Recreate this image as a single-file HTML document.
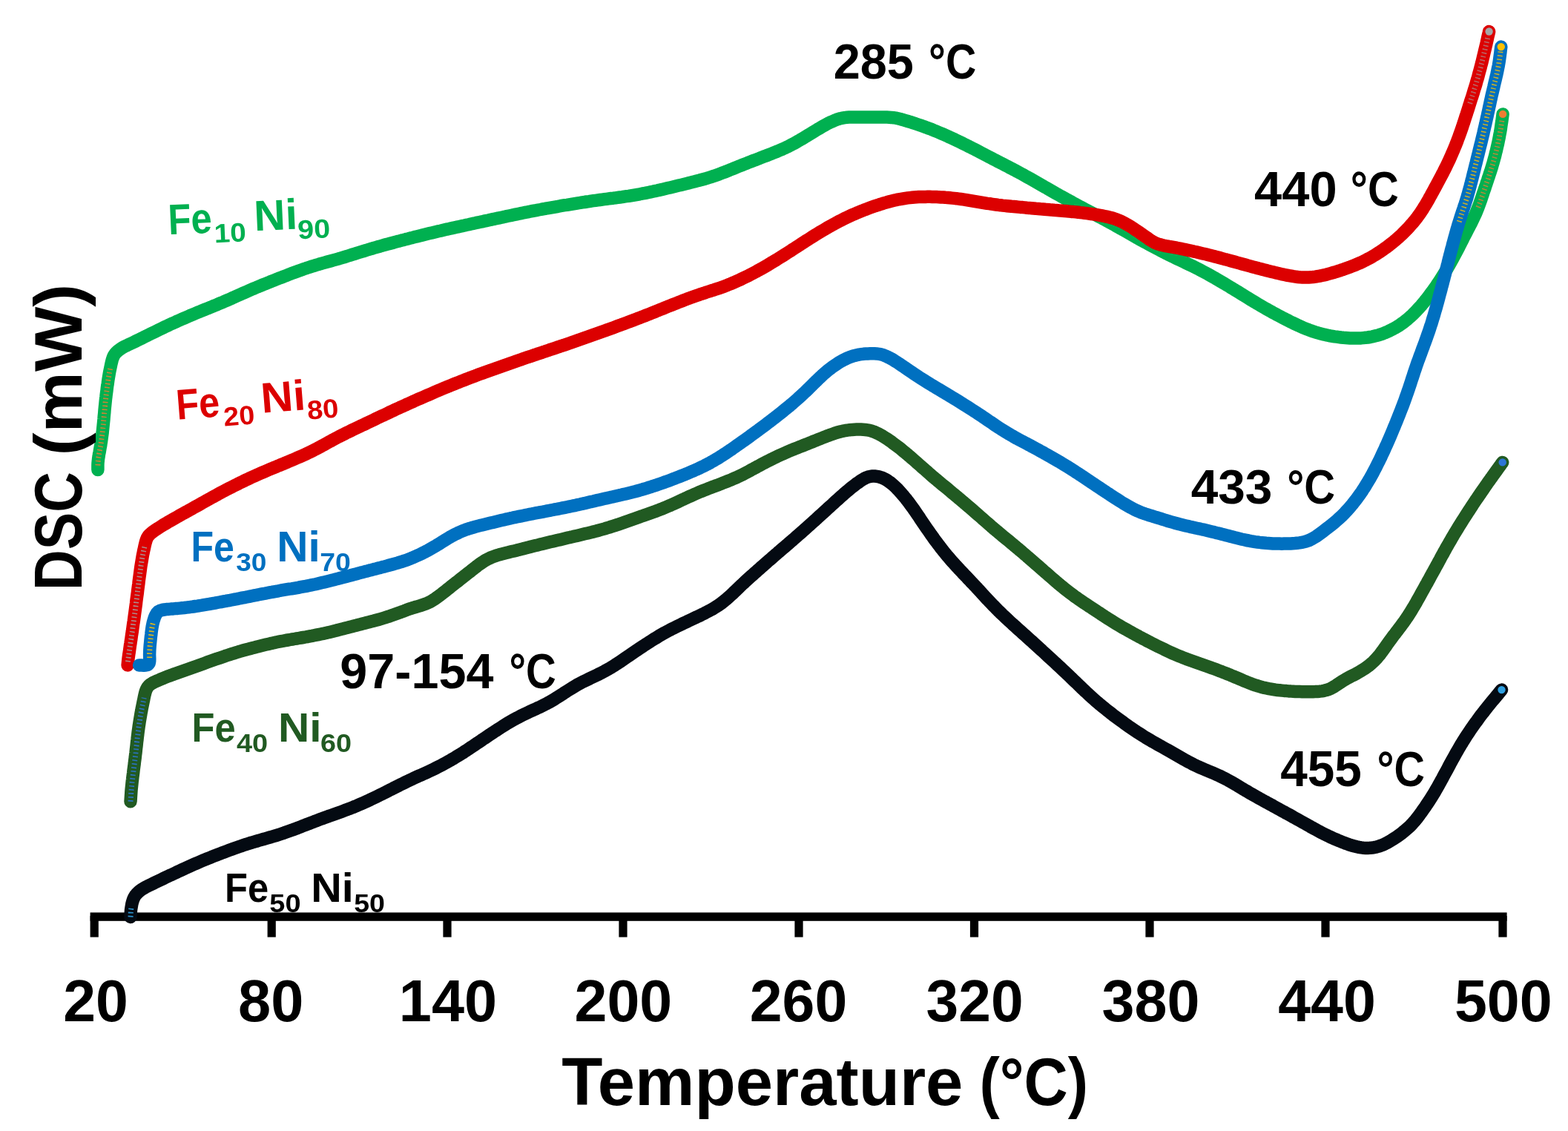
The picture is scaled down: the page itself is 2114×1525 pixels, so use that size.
<!DOCTYPE html><html><head><meta charset="utf-8"><style>html,body{margin:0;padding:0;background:#fff;width:2114px;height:1525px;overflow:hidden}svg{display:block}text{font-family:"Liberation Sans",Arial,sans-serif;font-weight:bold;white-space:pre}</style></head><body>
<svg xmlns="http://www.w3.org/2000/svg" width="2114" height="1525" viewBox="0 0 2114 1525">
<rect width="2114" height="1525" fill="#fff"/>
<rect x="121.6" y="1230.4" width="1910.0" height="11.4" fill="#000"/><rect x="121.6" y="1235" width="11.2" height="28.6" fill="#000"/><rect x="360.6" y="1235" width="11.2" height="28.6" fill="#000"/><rect x="597.4" y="1235" width="11.2" height="28.6" fill="#000"/><rect x="834.4" y="1235" width="11.2" height="28.6" fill="#000"/><rect x="1071.4" y="1235" width="11.2" height="28.6" fill="#000"/><rect x="1307.9" y="1235" width="11.2" height="28.6" fill="#000"/><rect x="1544.4" y="1235" width="11.2" height="28.6" fill="#000"/><rect x="1781.4" y="1235" width="11.2" height="28.6" fill="#000"/><rect x="2020.4" y="1235" width="11.2" height="28.6" fill="#000"/>
<path d="M131.9,633.5 L131.9,630.5 L131.9,627.5 L132.0,624.5 L132.3,621.5 L132.6,618.5 L133.1,615.6 L133.5,612.6 L134.1,609.7 L134.6,606.7 L135.1,603.8 L135.7,600.8 L136.1,597.8 L136.6,594.9 L137.0,591.9 L137.4,588.9 L137.8,586.0 L138.2,583.0 L138.5,580.0 L138.8,577.0 L139.1,574.0 L139.4,571.1 L139.7,568.1 L140.0,565.1 L140.2,562.1 L140.5,559.1 L140.8,556.1 L141.0,553.1 L141.3,550.1 L141.6,547.1 L141.9,544.2 L142.2,541.2 L142.5,538.2 L142.9,535.2 L143.2,532.2 L143.6,529.3 L144.0,526.3 L144.3,523.3 L144.7,520.3 L145.2,517.4 L145.6,514.4 L146.0,511.4 L146.5,508.5 L147.0,505.5 L147.5,502.5 L148.1,499.6 L148.7,496.6 L149.3,493.7 L149.9,490.8 L150.6,487.9 L151.3,485.0 L152.3,482.1 L153.5,479.4 L155.2,476.9 L157.2,474.7 L159.4,472.7 L161.8,470.9 L164.3,469.2 L166.9,467.8 L169.5,466.4 L172.2,465.2 L174.9,463.9 L177.7,462.6 L180.4,461.3 L183.1,460.0 L185.8,458.7 L188.5,457.4 L191.1,456.1 L193.8,454.7 L196.5,453.4 L199.2,452.1 L201.9,450.7 L204.6,449.4 L207.3,448.1 L210.0,446.8 L212.7,445.4 L215.4,444.1 L218.1,442.8 L220.8,441.5 L223.5,440.2 L226.2,439.0 L228.9,437.7 L231.6,436.4 L234.4,435.2 L237.1,434.0 L239.8,432.7 L242.6,431.5 L245.3,430.3 L248.1,429.1 L250.8,427.9 L253.6,426.7 L256.3,425.5 L259.1,424.4 L261.9,423.2 L264.7,422.0 L267.4,420.9 L270.2,419.8 L273.0,418.6 L275.8,417.5 L278.6,416.4 L281.3,415.3 L284.1,414.2 L286.9,413.0 L289.7,411.9 L292.5,410.8 L295.2,409.6 L298.0,408.4 L300.8,407.3 L303.5,406.1 L306.3,404.9 L309.0,403.7 L311.8,402.5 L314.5,401.2 L317.2,400.0 L320.0,398.8 L322.7,397.6 L325.4,396.3 L328.2,395.1 L330.9,393.9 L333.7,392.7 L336.4,391.5 L339.2,390.3 L342.0,389.1 L344.7,388.0 L347.5,386.8 L350.3,385.7 L353.0,384.5 L355.8,383.4 L358.6,382.3 L361.4,381.2 L364.2,380.0 L367.0,378.9 L369.8,377.8 L372.6,376.7 L375.3,375.6 L378.1,374.6 L380.9,373.5 L383.7,372.4 L386.5,371.3 L389.3,370.2 L392.1,369.1 L394.9,368.1 L397.8,367.0 L400.6,366.0 L403.4,364.9 L406.2,363.9 L409.0,362.9 L411.9,362.0 L414.7,361.0 L417.6,360.1 L420.4,359.2 L423.3,358.3 L426.2,357.4 L429.0,356.6 L431.9,355.7 L434.8,354.9 L437.7,354.1 L440.6,353.3 L443.5,352.5 L446.4,351.7 L449.3,350.9 L452.2,350.1 L455.0,349.3 L457.9,348.5 L460.8,347.6 L463.7,346.8 L466.5,345.9 L469.4,345.0 L472.3,344.1 L475.1,343.2 L478.0,342.3 L480.9,341.4 L483.7,340.5 L486.6,339.6 L489.5,338.8 L492.3,337.9 L495.2,337.0 L498.1,336.1 L501.0,335.3 L503.8,334.4 L506.7,333.6 L509.6,332.8 L512.5,332.0 L515.4,331.1 L518.3,330.3 L521.2,329.5 L524.1,328.8 L527.0,328.0 L529.9,327.2 L532.8,326.4 L535.7,325.6 L538.6,324.9 L541.5,324.1 L544.4,323.4 L547.3,322.6 L550.2,321.9 L553.1,321.1 L556.0,320.4 L558.9,319.6 L561.8,318.9 L564.7,318.2 L567.6,317.5 L570.6,316.7 L573.5,316.0 L576.4,315.3 L579.3,314.6 L582.2,313.9 L585.1,313.2 L588.1,312.5 L591.0,311.8 L593.9,311.2 L596.8,310.5 L599.8,309.8 L602.7,309.1 L605.6,308.5 L608.5,307.8 L611.5,307.2 L614.4,306.5 L617.3,305.9 L620.3,305.2 L623.2,304.6 L626.1,304.0 L629.1,303.3 L632.0,302.7 L634.9,302.0 L637.9,301.4 L640.8,300.8 L643.7,300.1 L646.7,299.5 L649.6,298.9 L652.5,298.2 L655.5,297.6 L658.4,297.0 L661.3,296.3 L664.3,295.7 L667.2,295.1 L670.1,294.4 L673.1,293.8 L676.0,293.2 L678.9,292.6 L681.9,291.9 L684.8,291.3 L687.7,290.7 L690.7,290.1 L693.6,289.4 L696.6,288.8 L699.5,288.2 L702.4,287.6 L705.4,287.0 L708.3,286.4 L711.3,285.9 L714.2,285.3 L717.2,284.7 L720.1,284.1 L723.0,283.6 L726.0,283.0 L728.9,282.5 L731.9,281.9 L734.9,281.4 L737.8,280.8 L740.8,280.3 L743.7,279.8 L746.7,279.3 L749.6,278.8 L752.6,278.3 L755.5,277.7 L758.5,277.2 L761.5,276.7 L764.4,276.3 L767.4,275.8 L770.3,275.3 L773.3,274.8 L776.3,274.3 L779.2,273.8 L782.2,273.4 L785.2,272.9 L788.1,272.5 L791.1,272.0 L794.1,271.6 L797.0,271.1 L800.0,270.7 L803.0,270.3 L806.0,269.9 L808.9,269.5 L811.9,269.1 L814.9,268.7 L817.9,268.3 L820.8,267.9 L823.8,267.5 L826.8,267.2 L829.8,266.8 L832.7,266.4 L835.7,266.0 L838.7,265.6 L841.6,265.1 L844.6,264.7 L847.6,264.3 L850.5,263.8 L853.5,263.3 L856.5,262.8 L859.4,262.3 L862.4,261.8 L865.3,261.2 L868.3,260.7 L871.2,260.1 L874.2,259.5 L877.1,258.9 L880.0,258.3 L883.0,257.6 L885.9,257.0 L888.8,256.3 L891.8,255.7 L894.7,255.0 L897.6,254.3 L900.5,253.6 L903.4,252.9 L906.4,252.2 L909.3,251.5 L912.2,250.8 L915.1,250.1 L918.0,249.4 L920.9,248.7 L923.9,248.0 L926.8,247.3 L929.7,246.5 L932.6,245.8 L935.5,245.1 L938.4,244.3 L941.3,243.6 L944.2,242.8 L947.1,242.0 L950.0,241.2 L952.9,240.4 L955.7,239.5 L958.6,238.6 L961.4,237.7 L964.3,236.7 L967.1,235.7 L969.9,234.7 L972.7,233.6 L975.5,232.6 L978.3,231.5 L981.1,230.4 L983.9,229.2 L986.7,228.1 L989.5,227.0 L992.2,225.9 L995.0,224.7 L997.8,223.6 L1000.6,222.5 L1003.4,221.4 L1006.2,220.3 L1009.0,219.2 L1011.8,218.1 L1014.6,217.0 L1017.4,215.9 L1020.2,214.9 L1023.0,213.8 L1025.8,212.7 L1028.6,211.6 L1031.4,210.6 L1034.2,209.5 L1037.0,208.4 L1039.8,207.3 L1042.6,206.2 L1045.3,205.1 L1048.1,204.0 L1050.9,202.8 L1053.6,201.7 L1056.4,200.4 L1059.1,199.2 L1061.8,197.9 L1064.5,196.5 L1067.1,195.2 L1069.8,193.8 L1072.4,192.3 L1075.0,190.8 L1077.6,189.4 L1080.2,187.8 L1082.8,186.3 L1085.3,184.8 L1087.9,183.2 L1090.5,181.7 L1093.0,180.1 L1095.6,178.5 L1098.1,177.0 L1100.7,175.4 L1103.3,173.8 L1105.9,172.3 L1108.4,170.8 L1111.0,169.3 L1113.7,167.8 L1116.3,166.4 L1119.0,165.1 L1121.7,163.9 L1124.5,162.7 L1127.3,161.6 L1130.1,160.6 L1133.0,159.7 L1135.9,159.1 L1138.8,158.6 L1141.8,158.3 L1144.8,158.1 L1147.8,157.9 L1150.8,157.9 L1153.8,157.9 L1156.8,157.9 L1159.7,157.9 L1162.7,158.0 L1165.7,158.0 L1168.7,158.0 L1171.7,158.0 L1174.7,158.0 L1177.7,158.1 L1180.7,158.1 L1183.7,158.1 L1186.7,158.1 L1189.7,158.1 L1192.7,158.1 L1195.7,158.1 L1198.7,158.2 L1201.7,158.4 L1204.7,158.7 L1207.7,159.1 L1210.6,159.7 L1213.5,160.4 L1216.4,161.3 L1219.3,162.1 L1222.1,163.0 L1225.0,163.8 L1227.9,164.7 L1230.7,165.6 L1233.6,166.6 L1236.4,167.5 L1239.3,168.5 L1242.1,169.4 L1245.0,170.4 L1247.8,171.5 L1250.6,172.5 L1253.4,173.6 L1256.2,174.6 L1259.0,175.8 L1261.8,176.9 L1264.5,178.0 L1267.3,179.2 L1270.1,180.4 L1272.8,181.6 L1275.6,182.8 L1278.3,184.0 L1281.0,185.3 L1283.7,186.5 L1286.5,187.8 L1289.2,189.1 L1291.9,190.4 L1294.6,191.7 L1297.3,193.0 L1300.0,194.3 L1302.7,195.6 L1305.3,197.0 L1308.0,198.3 L1310.7,199.7 L1313.4,201.1 L1316.0,202.4 L1318.7,203.8 L1321.4,205.2 L1324.0,206.6 L1326.7,208.0 L1329.3,209.4 L1332.0,210.8 L1334.7,212.1 L1337.3,213.5 L1340.0,214.9 L1342.7,216.3 L1345.3,217.7 L1348.0,219.1 L1350.7,220.4 L1353.3,221.8 L1356.0,223.2 L1358.7,224.6 L1361.3,226.0 L1364.0,227.3 L1366.6,228.7 L1369.3,230.1 L1371.9,231.6 L1374.6,233.0 L1377.2,234.4 L1379.8,235.8 L1382.5,237.3 L1385.1,238.8 L1387.7,240.2 L1390.3,241.7 L1392.9,243.2 L1395.5,244.7 L1398.1,246.2 L1400.7,247.7 L1403.3,249.2 L1405.9,250.7 L1408.5,252.2 L1411.2,253.6 L1413.8,255.1 L1416.4,256.6 L1419.0,258.1 L1421.6,259.6 L1424.2,261.1 L1426.8,262.5 L1429.4,264.0 L1432.1,265.5 L1434.7,266.9 L1437.3,268.4 L1439.9,269.8 L1442.6,271.2 L1445.2,272.7 L1447.8,274.1 L1450.5,275.5 L1453.1,277.0 L1455.8,278.4 L1458.4,279.8 L1461.1,281.2 L1463.7,282.6 L1466.4,284.0 L1469.0,285.4 L1471.7,286.8 L1474.3,288.2 L1477.0,289.6 L1479.6,291.0 L1482.3,292.4 L1485.0,293.8 L1487.6,295.2 L1490.3,296.6 L1492.9,298.1 L1495.5,299.5 L1498.2,300.9 L1500.8,302.4 L1503.4,303.8 L1506.0,305.3 L1508.7,306.8 L1511.3,308.3 L1513.9,309.7 L1516.5,311.2 L1519.1,312.7 L1521.7,314.2 L1524.3,315.7 L1526.9,317.2 L1529.5,318.7 L1532.1,320.2 L1534.7,321.6 L1537.3,323.1 L1540.0,324.6 L1542.6,326.0 L1545.2,327.4 L1547.9,328.9 L1550.5,330.3 L1553.2,331.7 L1555.8,333.1 L1558.5,334.5 L1561.1,335.9 L1563.8,337.3 L1566.4,338.7 L1569.1,340.0 L1571.8,341.4 L1574.5,342.8 L1577.2,344.1 L1579.8,345.4 L1582.5,346.7 L1585.2,348.0 L1587.9,349.3 L1590.7,350.6 L1593.4,351.9 L1596.1,353.2 L1598.8,354.5 L1601.5,355.8 L1604.2,357.1 L1606.9,358.4 L1609.6,359.7 L1612.3,361.1 L1615.0,362.4 L1617.6,363.8 L1620.3,365.2 L1622.9,366.6 L1625.6,368.0 L1628.2,369.4 L1630.8,370.9 L1633.4,372.4 L1636.1,373.9 L1638.7,375.3 L1641.3,376.8 L1643.8,378.4 L1646.4,379.9 L1649.0,381.4 L1651.6,382.9 L1654.2,384.5 L1656.8,386.0 L1659.3,387.6 L1661.9,389.1 L1664.5,390.7 L1667.0,392.2 L1669.6,393.8 L1672.1,395.4 L1674.7,397.0 L1677.2,398.5 L1679.8,400.1 L1682.3,401.7 L1684.9,403.3 L1687.5,404.8 L1690.0,406.4 L1692.6,407.9 L1695.2,409.5 L1697.8,411.0 L1700.3,412.5 L1702.9,414.0 L1705.5,415.5 L1708.2,417.0 L1710.8,418.5 L1713.4,419.9 L1716.0,421.4 L1718.7,422.8 L1721.3,424.2 L1723.9,425.6 L1726.6,427.0 L1729.3,428.4 L1731.9,429.8 L1734.6,431.2 L1737.3,432.5 L1740.0,433.9 L1742.6,435.2 L1745.3,436.5 L1748.1,437.8 L1750.8,439.1 L1753.5,440.3 L1756.2,441.5 L1759.0,442.7 L1761.8,443.8 L1764.6,444.8 L1767.4,445.9 L1770.2,446.8 L1773.1,447.8 L1775.9,448.6 L1778.8,449.5 L1781.7,450.2 L1784.6,450.9 L1787.5,451.6 L1790.4,452.2 L1793.4,452.8 L1796.3,453.3 L1799.3,453.8 L1802.2,454.2 L1805.2,454.6 L1808.2,455.0 L1811.2,455.3 L1814.1,455.5 L1817.1,455.7 L1820.1,455.9 L1823.1,456.0 L1826.1,456.1 L1829.1,456.1 L1832.1,456.0 L1835.0,455.9 L1838.0,455.6 L1841.0,455.3 L1843.9,455.0 L1846.9,454.5 L1849.8,454.0 L1852.7,453.3 L1855.6,452.6 L1858.4,451.8 L1861.3,450.9 L1864.1,449.9 L1866.8,448.9 L1869.6,447.7 L1872.3,446.5 L1875.0,445.2 L1877.6,443.9 L1880.3,442.4 L1882.8,440.9 L1885.4,439.4 L1887.9,437.7 L1890.3,436.0 L1892.7,434.3 L1895.1,432.4 L1897.4,430.6 L1899.6,428.6 L1901.9,426.6 L1904.1,424.6 L1906.2,422.5 L1908.3,420.4 L1910.4,418.2 L1912.4,416.0 L1914.4,413.8 L1916.4,411.6 L1918.3,409.3 L1920.3,407.0 L1922.1,404.6 L1924.0,402.3 L1925.8,399.9 L1927.6,397.5 L1929.4,395.1 L1931.2,392.7 L1932.9,390.3 L1934.7,387.8 L1936.4,385.3 L1938.0,382.9 L1939.7,380.4 L1941.4,377.9 L1943.0,375.3 L1944.6,372.8 L1946.2,370.3 L1947.8,367.7 L1949.3,365.1 L1950.9,362.6 L1952.4,360.0 L1953.9,357.4 L1955.3,354.8 L1956.8,352.2 L1958.3,349.5 L1959.7,346.9 L1961.1,344.2 L1962.5,341.6 L1963.9,338.9 L1965.3,336.3 L1966.7,333.6 L1968.0,330.9 L1969.4,328.3 L1970.7,325.6 L1972.1,322.9 L1973.4,320.2 L1974.8,317.6 L1976.2,314.9 L1977.6,312.2 L1978.9,309.6 L1980.3,306.9 L1981.7,304.2 L1983.1,301.6 L1984.4,298.9 L1985.7,296.2 L1987.0,293.5 L1988.3,290.8 L1989.5,288.1 L1990.7,285.3 L1991.8,282.5 L1992.9,279.7 L1994.0,276.9 L1995.0,274.1 L1996.0,271.3 L1997.0,268.5 L1997.9,265.6 L1998.9,262.8 L1999.8,259.9 L2000.8,257.1 L2001.8,254.3 L2002.7,251.4 L2003.7,248.6 L2004.6,245.7 L2005.6,242.9 L2006.5,240.0 L2007.5,237.2 L2008.4,234.3 L2009.4,231.5 L2010.3,228.6 L2011.2,225.8 L2012.0,222.9 L2012.9,220.0 L2013.7,217.1 L2014.5,214.2 L2015.3,211.4 L2016.0,208.4 L2016.7,205.5 L2017.5,202.6 L2018.1,199.7 L2018.8,196.8 L2019.5,193.9 L2020.1,190.9 L2020.7,188.0 L2021.3,185.0 L2021.8,182.1 L2022.4,179.1 L2022.9,176.2 L2023.4,173.2 L2023.8,170.2 L2024.2,167.3 L2024.7,164.3 L2025.1,161.3 L2025.5,158.4 L2025.9,155.4 L2026.1,153.9" fill="none" stroke="#00B050" stroke-width="17.5" stroke-linecap="round" stroke-linejoin="round"/>
<path d="M172.1,896.9 L172.4,893.9 L172.7,890.9 L173.0,887.9 L173.4,885.0 L173.8,882.0 L174.3,879.0 L174.7,876.1 L175.1,873.1 L175.5,870.1 L176.0,867.2 L176.4,864.2 L176.9,861.2 L177.3,858.2 L177.7,855.3 L178.2,852.3 L178.6,849.3 L179.0,846.4 L179.4,843.4 L179.8,840.4 L180.3,837.5 L180.7,834.5 L181.1,831.5 L181.5,828.5 L181.9,825.6 L182.3,822.6 L182.7,819.6 L183.1,816.6 L183.5,813.7 L183.8,810.7 L184.2,807.7 L184.6,804.7 L185.0,801.8 L185.4,798.8 L185.7,795.8 L186.1,792.8 L186.5,789.8 L186.9,786.9 L187.2,783.9 L187.6,780.9 L188.0,777.9 L188.4,775.0 L188.8,772.0 L189.2,769.0 L189.6,766.0 L190.0,763.1 L190.5,760.1 L191.0,757.2 L191.5,754.2 L192.0,751.2 L192.5,748.3 L193.1,745.4 L193.7,742.4 L194.4,739.5 L195.0,736.6 L195.7,733.6 L196.4,730.7 L197.3,727.9 L198.4,725.1 L200.0,722.6 L202.1,720.4 L204.3,718.4 L206.7,716.6 L209.1,714.9 L211.6,713.2 L214.2,711.6 L216.7,710.0 L219.2,708.4 L221.8,706.8 L224.4,705.3 L226.9,703.8 L229.5,702.3 L232.1,700.8 L234.7,699.3 L237.4,697.8 L240.0,696.4 L242.6,694.9 L245.2,693.4 L247.8,692.0 L250.5,690.5 L253.1,689.1 L255.7,687.6 L258.3,686.2 L261.0,684.7 L263.6,683.2 L266.2,681.8 L268.8,680.3 L271.4,678.8 L274.0,677.4 L276.7,675.9 L279.3,674.4 L281.9,673.0 L284.5,671.5 L287.2,670.1 L289.8,668.6 L292.4,667.2 L295.1,665.7 L297.7,664.3 L300.3,662.9 L303.0,661.5 L305.7,660.1 L308.3,658.7 L311.0,657.4 L313.7,656.0 L316.3,654.6 L319.0,653.3 L321.7,652.0 L324.4,650.6 L327.1,649.3 L329.8,648.0 L332.5,646.7 L335.2,645.5 L337.9,644.2 L340.7,642.9 L343.4,641.7 L346.1,640.5 L348.9,639.3 L351.6,638.1 L354.4,636.9 L357.1,635.7 L359.9,634.5 L362.7,633.3 L365.4,632.2 L368.2,631.0 L371.0,629.9 L373.7,628.7 L376.5,627.6 L379.3,626.4 L382.0,625.3 L384.8,624.1 L387.6,623.0 L390.4,621.8 L393.1,620.7 L395.9,619.5 L398.7,618.3 L401.4,617.1 L404.2,615.9 L406.9,614.7 L409.6,613.5 L412.4,612.2 L415.1,610.9 L417.8,609.6 L420.4,608.3 L423.1,606.9 L425.8,605.6 L428.4,604.2 L431.1,602.8 L433.7,601.3 L436.4,599.9 L439.0,598.5 L441.6,597.0 L444.3,595.6 L446.9,594.2 L449.5,592.7 L452.2,591.3 L454.8,589.9 L457.5,588.5 L460.2,587.2 L462.8,585.8 L465.5,584.5 L468.2,583.1 L470.9,581.8 L473.6,580.5 L476.3,579.2 L479.0,577.9 L481.7,576.6 L484.4,575.3 L487.1,574.0 L489.9,572.8 L492.6,571.5 L495.3,570.2 L498.0,568.9 L500.7,567.6 L503.4,566.3 L506.1,565.0 L508.8,563.7 L511.5,562.4 L514.2,561.1 L516.9,559.9 L519.7,558.6 L522.4,557.3 L525.1,556.0 L527.8,554.7 L530.5,553.5 L533.2,552.2 L536.0,550.9 L538.7,549.7 L541.4,548.4 L544.1,547.2 L546.9,546.0 L549.6,544.7 L552.4,543.5 L555.1,542.3 L557.8,541.0 L560.6,539.8 L563.3,538.6 L566.1,537.4 L568.8,536.2 L571.6,535.0 L574.3,533.8 L577.1,532.6 L579.8,531.4 L582.6,530.2 L585.3,529.0 L588.1,527.8 L590.8,526.7 L593.6,525.5 L596.4,524.3 L599.1,523.2 L601.9,522.0 L604.7,520.9 L607.5,519.7 L610.2,518.6 L613.0,517.5 L615.8,516.4 L618.6,515.3 L621.4,514.2 L624.2,513.1 L627.0,512.0 L629.8,510.9 L632.6,509.8 L635.4,508.8 L638.2,507.7 L641.0,506.7 L643.8,505.6 L646.6,504.6 L649.5,503.6 L652.3,502.5 L655.1,501.5 L657.9,500.5 L660.7,499.5 L663.6,498.5 L666.4,497.5 L669.2,496.5 L672.1,495.5 L674.9,494.5 L677.7,493.5 L680.5,492.5 L683.4,491.5 L686.2,490.5 L689.0,489.5 L691.9,488.5 L694.7,487.5 L697.5,486.5 L700.4,485.5 L703.2,484.6 L706.0,483.6 L708.9,482.6 L711.7,481.6 L714.6,480.7 L717.4,479.7 L720.2,478.7 L723.1,477.8 L725.9,476.8 L728.8,475.9 L731.6,474.9 L734.5,474.0 L737.3,473.0 L740.2,472.1 L743.0,471.1 L745.9,470.2 L748.7,469.2 L751.5,468.2 L754.4,467.3 L757.2,466.3 L760.1,465.4 L762.9,464.4 L765.8,463.4 L768.6,462.5 L771.4,461.5 L774.3,460.5 L777.1,459.5 L779.9,458.5 L782.8,457.5 L785.6,456.5 L788.4,455.5 L791.3,454.5 L794.1,453.5 L796.9,452.5 L799.7,451.5 L802.6,450.5 L805.4,449.5 L808.2,448.5 L811.0,447.5 L813.9,446.5 L816.7,445.5 L819.5,444.4 L822.3,443.4 L825.1,442.4 L828.0,441.4 L830.8,440.3 L833.6,439.3 L836.4,438.3 L839.2,437.2 L842.0,436.2 L844.9,435.1 L847.7,434.1 L850.5,433.0 L853.3,432.0 L856.1,430.9 L858.9,429.8 L861.7,428.8 L864.5,427.7 L867.3,426.6 L870.1,425.5 L872.9,424.4 L875.7,423.3 L878.5,422.2 L881.2,421.1 L884.0,420.0 L886.8,418.8 L889.6,417.7 L892.4,416.6 L895.2,415.5 L897.9,414.3 L900.7,413.2 L903.5,412.1 L906.3,411.0 L909.1,409.9 L911.9,408.8 L914.7,407.7 L917.5,406.6 L920.3,405.5 L923.1,404.4 L925.9,403.3 L928.7,402.3 L931.5,401.2 L934.3,400.2 L937.1,399.2 L940.0,398.2 L942.8,397.3 L945.6,396.3 L948.5,395.4 L951.3,394.4 L954.2,393.5 L957.1,392.6 L959.9,391.7 L962.8,390.8 L965.6,389.8 L968.5,388.9 L971.3,387.9 L974.1,386.9 L976.9,385.9 L979.7,384.8 L982.5,383.7 L985.3,382.6 L988.1,381.4 L990.8,380.2 L993.5,379.0 L996.3,377.8 L999.0,376.5 L1001.7,375.2 L1004.4,373.9 L1007.1,372.6 L1009.8,371.3 L1012.4,369.9 L1015.1,368.5 L1017.7,367.1 L1020.4,365.7 L1023.0,364.2 L1025.6,362.8 L1028.2,361.3 L1030.8,359.8 L1033.4,358.3 L1036.0,356.8 L1038.6,355.2 L1041.2,353.7 L1043.7,352.1 L1046.3,350.6 L1048.8,349.0 L1051.4,347.4 L1053.9,345.8 L1056.5,344.2 L1059.0,342.6 L1061.5,341.0 L1064.1,339.4 L1066.6,337.8 L1069.1,336.1 L1071.6,334.5 L1074.1,332.9 L1076.7,331.2 L1079.2,329.6 L1081.7,327.9 L1084.2,326.3 L1086.7,324.7 L1089.3,323.1 L1091.8,321.5 L1094.3,319.9 L1096.9,318.3 L1099.4,316.7 L1102.0,315.1 L1104.5,313.6 L1107.1,312.0 L1109.7,310.5 L1112.3,309.0 L1114.9,307.4 L1117.5,305.9 L1120.1,304.5 L1122.7,303.0 L1125.3,301.6 L1128.0,300.1 L1130.6,298.7 L1133.3,297.4 L1136.0,296.0 L1138.6,294.7 L1141.3,293.4 L1144.0,292.1 L1146.8,290.8 L1149.5,289.6 L1152.2,288.4 L1155.0,287.2 L1157.8,286.1 L1160.5,284.9 L1163.3,283.8 L1166.1,282.7 L1168.9,281.7 L1171.7,280.6 L1174.6,279.6 L1177.4,278.6 L1180.2,277.6 L1183.1,276.7 L1185.9,275.7 L1188.8,274.8 L1191.6,273.9 L1194.5,273.1 L1197.4,272.3 L1200.3,271.5 L1203.2,270.8 L1206.1,270.1 L1209.0,269.4 L1211.9,268.8 L1214.9,268.3 L1217.8,267.8 L1220.8,267.3 L1223.8,266.9 L1226.7,266.6 L1229.7,266.3 L1232.7,266.0 L1235.7,265.8 L1238.7,265.6 L1241.7,265.5 L1244.6,265.4 L1247.6,265.4 L1250.6,265.3 L1253.6,265.3 L1256.6,265.4 L1259.6,265.5 L1262.6,265.6 L1265.6,265.7 L1268.6,265.9 L1271.6,266.0 L1274.6,266.3 L1277.6,266.5 L1280.6,266.8 L1283.6,267.1 L1286.5,267.4 L1289.5,267.7 L1292.5,268.1 L1295.5,268.5 L1298.4,268.9 L1301.4,269.3 L1304.4,269.8 L1307.3,270.3 L1310.3,270.8 L1313.2,271.3 L1316.2,271.8 L1319.2,272.3 L1322.1,272.8 L1325.1,273.3 L1328.0,273.8 L1331.0,274.3 L1334.0,274.7 L1336.9,275.2 L1339.9,275.6 L1342.9,276.0 L1345.8,276.4 L1348.8,276.7 L1351.8,277.1 L1354.8,277.4 L1357.8,277.7 L1360.7,278.0 L1363.7,278.3 L1366.7,278.5 L1369.7,278.8 L1372.7,279.1 L1375.7,279.4 L1378.7,279.6 L1381.7,279.9 L1384.6,280.2 L1387.6,280.4 L1390.6,280.7 L1393.6,281.0 L1396.6,281.3 L1399.6,281.5 L1402.6,281.8 L1405.6,282.0 L1408.6,282.3 L1411.5,282.6 L1414.5,282.8 L1417.5,283.1 L1420.5,283.3 L1423.5,283.6 L1426.5,283.8 L1429.5,284.1 L1432.5,284.3 L1435.5,284.6 L1438.5,284.8 L1441.4,285.1 L1444.4,285.4 L1447.4,285.6 L1450.4,285.9 L1453.4,286.2 L1456.4,286.6 L1459.4,286.9 L1462.3,287.3 L1465.3,287.7 L1468.3,288.1 L1471.2,288.5 L1474.2,288.9 L1477.2,289.4 L1480.1,289.9 L1483.1,290.4 L1486.0,290.9 L1489.0,291.5 L1491.9,292.1 L1494.8,292.8 L1497.7,293.5 L1500.6,294.3 L1503.5,295.3 L1506.3,296.3 L1509.0,297.4 L1511.8,298.6 L1514.5,300.0 L1517.1,301.3 L1519.8,302.8 L1522.4,304.3 L1524.9,305.9 L1527.4,307.5 L1529.9,309.2 L1532.4,310.9 L1534.9,312.5 L1537.4,314.2 L1539.8,316.0 L1542.3,317.7 L1544.7,319.4 L1547.2,321.1 L1549.6,322.9 L1552.1,324.5 L1554.7,326.0 L1557.4,327.4 L1560.1,328.6 L1563.0,329.5 L1565.9,330.3 L1568.8,331.0 L1571.7,331.6 L1574.7,332.1 L1577.6,332.7 L1580.6,333.2 L1583.5,333.7 L1586.5,334.2 L1589.4,334.8 L1592.4,335.4 L1595.3,336.0 L1598.3,336.6 L1601.2,337.2 L1604.1,337.9 L1607.1,338.5 L1610.0,339.2 L1612.9,339.8 L1615.8,340.5 L1618.7,341.2 L1621.7,341.9 L1624.6,342.6 L1627.5,343.3 L1630.4,344.1 L1633.3,344.8 L1636.2,345.5 L1639.1,346.3 L1642.0,347.0 L1644.9,347.8 L1647.8,348.6 L1650.7,349.4 L1653.6,350.1 L1656.5,350.9 L1659.4,351.7 L1662.3,352.5 L1665.2,353.3 L1668.1,354.1 L1671.0,354.9 L1673.9,355.7 L1676.8,356.5 L1679.7,357.3 L1682.6,358.1 L1685.5,358.9 L1688.4,359.7 L1691.3,360.4 L1694.2,361.2 L1697.1,362.0 L1700.0,362.7 L1702.9,363.5 L1705.8,364.2 L1708.7,365.0 L1711.6,365.7 L1714.5,366.4 L1717.4,367.1 L1720.3,367.9 L1723.2,368.5 L1726.2,369.2 L1729.1,369.9 L1732.0,370.5 L1734.9,371.1 L1737.9,371.7 L1740.8,372.2 L1743.8,372.7 L1746.7,373.1 L1749.7,373.5 L1752.6,373.8 L1755.6,373.9 L1758.6,374.0 L1761.5,374.0 L1764.5,373.9 L1767.5,373.7 L1770.4,373.5 L1773.4,373.1 L1776.3,372.6 L1779.3,372.1 L1782.2,371.5 L1785.1,370.9 L1788.0,370.2 L1790.9,369.4 L1793.8,368.6 L1796.7,367.8 L1799.5,367.0 L1802.4,366.1 L1805.3,365.2 L1808.1,364.2 L1811.0,363.3 L1813.8,362.3 L1816.6,361.3 L1819.4,360.3 L1822.2,359.2 L1825.0,358.1 L1827.8,357.0 L1830.5,355.8 L1833.3,354.6 L1836.0,353.4 L1838.7,352.1 L1841.4,350.7 L1844.0,349.3 L1846.7,347.9 L1849.3,346.5 L1851.9,344.9 L1854.4,343.4 L1857.0,341.8 L1859.5,340.2 L1862.0,338.5 L1864.4,336.8 L1866.9,335.1 L1869.3,333.4 L1871.7,331.6 L1874.1,329.7 L1876.4,327.9 L1878.8,326.0 L1881.1,324.1 L1883.3,322.1 L1885.6,320.1 L1887.8,318.1 L1890.0,316.1 L1892.1,314.0 L1894.2,311.9 L1896.3,309.7 L1898.4,307.6 L1900.4,305.4 L1902.4,303.1 L1904.4,300.9 L1906.3,298.6 L1908.2,296.3 L1910.0,293.9 L1911.8,291.5 L1913.6,289.1 L1915.3,286.6 L1916.9,284.2 L1918.6,281.6 L1920.1,279.1 L1921.7,276.5 L1923.2,274.0 L1924.7,271.4 L1926.2,268.8 L1927.6,266.1 L1929.1,263.5 L1930.5,260.9 L1932.0,258.2 L1933.4,255.6 L1934.8,253.0 L1936.3,250.3 L1937.7,247.7 L1939.1,245.0 L1940.5,242.4 L1941.9,239.7 L1943.3,237.1 L1944.7,234.4 L1946.1,231.8 L1947.4,229.1 L1948.8,226.4 L1950.1,223.7 L1951.4,221.0 L1952.7,218.3 L1954.0,215.6 L1955.2,212.9 L1956.4,210.1 L1957.6,207.4 L1958.8,204.6 L1960.0,201.9 L1961.1,199.1 L1962.3,196.3 L1963.4,193.5 L1964.5,190.7 L1965.5,187.9 L1966.6,185.1 L1967.6,182.3 L1968.6,179.5 L1969.6,176.7 L1970.6,173.8 L1971.6,171.0 L1972.5,168.1 L1973.5,165.3 L1974.4,162.4 L1975.3,159.6 L1976.2,156.7 L1977.2,153.9 L1978.1,151.0 L1979.0,148.2 L1979.9,145.3 L1980.8,142.4 L1981.7,139.6 L1982.6,136.7 L1983.5,133.9 L1984.5,131.0 L1985.4,128.1 L1986.3,125.3 L1987.1,122.4 L1988.0,119.5 L1988.9,116.7 L1989.8,113.8 L1990.6,110.9 L1991.4,108.0 L1992.3,105.2 L1993.1,102.3 L1993.8,99.4 L1994.6,96.5 L1995.4,93.6 L1996.2,90.7 L1996.9,87.8 L1997.7,84.9 L1998.4,81.9 L1999.1,79.0 L1999.8,76.1 L2000.5,73.2 L2001.2,70.3 L2001.9,67.4 L2002.6,64.4 L2003.3,61.5 L2004.0,58.6 L2004.6,55.7 L2005.3,52.7 L2005.9,49.8 L2006.6,46.9 L2007.3,44.0 L2007.6,42.5" fill="none" stroke="#DC0000" stroke-width="17.5" stroke-linecap="round" stroke-linejoin="round"/>
<path d="M187.6,897.0 L190.6,897.1 L193.6,897.2 L196.5,897.0 L199.3,896.4 L201.1,894.4 L201.7,891.5 L201.8,888.5 L201.7,885.5 L201.6,882.6 L201.7,879.6 L201.8,876.6 L202.0,873.6 L202.2,870.6 L202.5,867.6 L202.8,864.6 L203.1,861.6 L203.4,858.7 L203.8,855.7 L204.1,852.7 L204.5,849.7 L204.9,846.8 L205.4,843.8 L206.0,840.9 L206.7,838.0 L207.6,835.1 L208.5,832.3 L209.7,829.6 L211.2,827.0 L213.2,824.8 L215.8,823.4 L218.6,822.5 L221.6,822.0 L224.5,821.6 L227.5,821.4 L230.5,821.1 L233.5,820.9 L236.5,820.6 L239.5,820.4 L242.5,820.1 L245.4,819.8 L248.4,819.5 L251.4,819.1 L254.4,818.8 L257.4,818.4 L260.3,818.0 L263.3,817.5 L266.3,817.1 L269.2,816.6 L272.2,816.2 L275.1,815.7 L278.1,815.2 L281.1,814.7 L284.0,814.1 L287.0,813.6 L289.9,813.1 L292.9,812.5 L295.8,812.0 L298.8,811.5 L301.7,810.9 L304.7,810.4 L307.6,809.8 L310.6,809.3 L313.5,808.7 L316.5,808.1 L319.4,807.6 L322.4,807.0 L325.3,806.4 L328.2,805.8 L331.2,805.3 L334.1,804.7 L337.1,804.1 L340.0,803.5 L343.0,802.9 L345.9,802.4 L348.8,801.8 L351.8,801.2 L354.7,800.6 L357.7,800.1 L360.6,799.5 L363.6,798.9 L366.5,798.4 L369.5,797.8 L372.4,797.3 L375.4,796.8 L378.3,796.2 L381.3,795.7 L384.2,795.2 L387.2,794.7 L390.2,794.2 L393.1,793.8 L396.1,793.3 L399.0,792.8 L402.0,792.3 L405.0,791.7 L407.9,791.2 L410.9,790.7 L413.8,790.1 L416.7,789.5 L419.7,788.9 L422.6,788.3 L425.5,787.7 L428.5,787.0 L431.4,786.3 L434.3,785.6 L437.2,784.9 L440.1,784.2 L443.1,783.5 L446.0,782.8 L448.9,782.1 L451.8,781.3 L454.7,780.6 L457.6,779.8 L460.5,779.0 L463.4,778.3 L466.3,777.5 L469.2,776.7 L472.1,776.0 L475.0,775.2 L477.9,774.4 L480.8,773.7 L483.7,772.9 L486.6,772.1 L489.5,771.4 L492.4,770.6 L495.3,769.9 L498.2,769.1 L501.1,768.4 L504.0,767.6 L506.9,766.9 L509.8,766.1 L512.7,765.4 L515.6,764.6 L518.5,763.9 L521.4,763.1 L524.3,762.3 L527.2,761.5 L530.1,760.7 L533.0,759.9 L535.9,759.1 L538.8,758.2 L541.6,757.3 L544.4,756.4 L547.3,755.4 L550.1,754.4 L552.9,753.3 L555.7,752.2 L558.4,751.0 L561.2,749.8 L563.9,748.6 L566.6,747.3 L569.3,746.0 L572.0,744.7 L574.6,743.3 L577.3,741.9 L579.9,740.4 L582.5,738.9 L585.1,737.4 L587.6,735.9 L590.2,734.3 L592.8,732.8 L595.3,731.2 L597.8,729.6 L600.4,728.0 L602.9,726.5 L605.5,724.9 L608.1,723.4 L610.7,722.0 L613.4,720.6 L616.0,719.3 L618.7,718.0 L621.5,716.8 L624.2,715.7 L627.0,714.6 L629.8,713.6 L632.6,712.7 L635.5,711.8 L638.4,711.0 L641.2,710.2 L644.1,709.4 L647.0,708.6 L649.9,707.9 L652.9,707.2 L655.8,706.5 L658.7,705.8 L661.6,705.1 L664.5,704.4 L667.4,703.7 L670.4,703.0 L673.3,702.3 L676.2,701.6 L679.1,700.9 L682.0,700.2 L685.0,699.6 L687.9,698.9 L690.8,698.3 L693.8,697.6 L696.7,697.0 L699.6,696.4 L702.6,695.8 L705.5,695.2 L708.4,694.6 L711.4,694.0 L714.3,693.4 L717.3,692.9 L720.2,692.3 L723.2,691.7 L726.1,691.2 L729.1,690.6 L732.0,690.1 L735.0,689.5 L737.9,688.9 L740.9,688.4 L743.8,687.8 L746.7,687.2 L749.7,686.7 L752.6,686.1 L755.6,685.5 L758.5,684.9 L761.5,684.3 L764.4,683.7 L767.3,683.1 L770.3,682.5 L773.2,681.9 L776.2,681.3 L779.1,680.6 L782.0,680.0 L784.9,679.3 L787.9,678.7 L790.8,678.0 L793.7,677.3 L796.6,676.6 L799.6,676.0 L802.5,675.3 L805.4,674.6 L808.3,673.9 L811.2,673.2 L814.2,672.5 L817.1,671.9 L820.0,671.2 L822.9,670.6 L825.9,669.9 L828.8,669.2 L831.7,668.6 L834.7,667.9 L837.6,667.3 L840.5,666.6 L843.4,665.9 L846.3,665.2 L849.3,664.5 L852.2,663.8 L855.1,663.1 L858.0,662.3 L860.9,661.5 L863.7,660.7 L866.6,659.8 L869.5,659.0 L872.4,658.1 L875.2,657.2 L878.1,656.3 L880.9,655.3 L883.8,654.4 L886.6,653.4 L889.4,652.5 L892.3,651.5 L895.1,650.5 L897.9,649.4 L900.8,648.4 L903.6,647.4 L906.4,646.3 L909.2,645.3 L912.0,644.2 L914.8,643.1 L917.6,642.0 L920.4,640.9 L923.1,639.8 L925.9,638.7 L928.7,637.5 L931.5,636.3 L934.2,635.2 L937.0,633.9 L939.7,632.7 L942.4,631.5 L945.1,630.2 L947.8,628.9 L950.5,627.5 L953.2,626.2 L955.8,624.8 L958.4,623.3 L961.0,621.9 L963.6,620.4 L966.2,618.8 L968.8,617.3 L971.3,615.7 L973.8,614.1 L976.4,612.4 L978.9,610.8 L981.3,609.1 L983.8,607.4 L986.3,605.8 L988.8,604.0 L991.2,602.3 L993.7,600.6 L996.1,598.9 L998.6,597.1 L1001.0,595.4 L1003.5,593.7 L1005.9,591.9 L1008.4,590.2 L1010.8,588.4 L1013.2,586.6 L1015.6,584.9 L1018.1,583.1 L1020.5,581.3 L1022.9,579.6 L1025.3,577.8 L1027.7,576.0 L1030.1,574.2 L1032.5,572.4 L1034.9,570.6 L1037.3,568.8 L1039.7,566.9 L1042.1,565.1 L1044.4,563.3 L1046.8,561.4 L1049.2,559.6 L1051.5,557.7 L1053.9,555.8 L1056.2,554.0 L1058.5,552.1 L1060.9,550.2 L1063.2,548.3 L1065.5,546.3 L1067.8,544.4 L1070.0,542.5 L1072.3,540.5 L1074.6,538.5 L1076.8,536.5 L1079.0,534.5 L1081.2,532.5 L1083.4,530.4 L1085.6,528.4 L1087.8,526.3 L1089.9,524.2 L1092.0,522.1 L1094.2,520.0 L1096.3,517.9 L1098.4,515.8 L1100.6,513.7 L1102.7,511.6 L1104.9,509.5 L1107.1,507.5 L1109.3,505.4 L1111.5,503.4 L1113.8,501.5 L1116.1,499.6 L1118.4,497.7 L1120.8,495.9 L1123.2,494.2 L1125.7,492.5 L1128.1,490.8 L1130.6,489.2 L1133.1,487.6 L1135.7,486.2 L1138.4,484.8 L1141.1,483.5 L1143.8,482.3 L1146.6,481.2 L1149.4,480.2 L1152.3,479.4 L1155.2,478.7 L1158.1,478.1 L1161.1,477.7 L1164.0,477.3 L1167.0,477.1 L1170.0,476.9 L1173.0,476.8 L1176.0,476.7 L1179.0,476.7 L1182.0,476.9 L1185.0,477.3 L1187.9,477.9 L1190.7,478.7 L1193.5,479.8 L1196.2,481.0 L1198.9,482.3 L1201.5,483.7 L1204.1,485.2 L1206.6,486.8 L1209.2,488.4 L1211.7,490.0 L1214.2,491.7 L1216.6,493.4 L1219.1,495.0 L1221.6,496.7 L1224.1,498.4 L1226.5,500.1 L1229.0,501.8 L1231.5,503.5 L1234.0,505.2 L1236.5,506.8 L1239.0,508.5 L1241.5,510.1 L1244.0,511.7 L1246.6,513.3 L1249.1,514.9 L1251.7,516.5 L1254.2,518.0 L1256.8,519.6 L1259.4,521.1 L1262.0,522.7 L1264.5,524.2 L1267.1,525.7 L1269.7,527.3 L1272.3,528.8 L1274.8,530.4 L1277.4,531.9 L1280.0,533.5 L1282.5,535.0 L1285.1,536.6 L1287.7,538.1 L1290.2,539.7 L1292.8,541.3 L1295.3,542.9 L1297.9,544.5 L1300.4,546.1 L1302.9,547.7 L1305.5,549.3 L1308.0,550.9 L1310.5,552.5 L1313.0,554.1 L1315.6,555.8 L1318.1,557.4 L1320.6,559.1 L1323.1,560.7 L1325.5,562.4 L1328.0,564.1 L1330.5,565.8 L1333.0,567.5 L1335.5,569.1 L1338.0,570.8 L1340.4,572.5 L1342.9,574.2 L1345.4,575.8 L1348.0,577.5 L1350.5,579.1 L1353.0,580.7 L1355.6,582.3 L1358.1,583.8 L1360.7,585.3 L1363.3,586.9 L1365.9,588.3 L1368.5,589.8 L1371.1,591.3 L1373.8,592.7 L1376.4,594.1 L1379.1,595.5 L1381.7,596.9 L1384.4,598.3 L1387.0,599.7 L1389.7,601.1 L1392.3,602.6 L1395.0,604.0 L1397.6,605.4 L1400.2,606.8 L1402.9,608.3 L1405.5,609.7 L1408.1,611.2 L1410.7,612.6 L1413.3,614.1 L1416.0,615.6 L1418.6,617.1 L1421.2,618.6 L1423.8,620.1 L1426.4,621.6 L1428.9,623.1 L1431.5,624.6 L1434.1,626.2 L1436.6,627.7 L1439.2,629.3 L1441.7,630.9 L1444.3,632.5 L1446.8,634.1 L1449.3,635.7 L1451.8,637.4 L1454.4,639.0 L1456.9,640.7 L1459.4,642.3 L1461.9,644.0 L1464.3,645.7 L1466.8,647.3 L1469.3,649.0 L1471.8,650.7 L1474.3,652.3 L1476.8,654.0 L1479.3,655.7 L1481.8,657.3 L1484.3,659.0 L1486.8,660.7 L1489.3,662.3 L1491.8,664.0 L1494.3,665.6 L1496.8,667.3 L1499.3,668.9 L1501.8,670.6 L1504.3,672.2 L1506.9,673.8 L1509.4,675.4 L1511.9,677.0 L1514.5,678.6 L1517.1,680.1 L1519.7,681.6 L1522.3,683.1 L1524.9,684.6 L1527.6,686.0 L1530.2,687.3 L1532.9,688.6 L1535.7,689.8 L1538.4,691.0 L1541.3,692.0 L1544.1,693.0 L1547.0,693.9 L1549.8,694.8 L1552.7,695.7 L1555.6,696.6 L1558.4,697.5 L1561.3,698.3 L1564.2,699.2 L1567.0,700.1 L1569.9,701.0 L1572.8,701.9 L1575.6,702.8 L1578.5,703.6 L1581.4,704.4 L1584.3,705.2 L1587.2,706.0 L1590.1,706.8 L1593.0,707.5 L1595.9,708.2 L1598.8,708.9 L1601.7,709.6 L1604.6,710.3 L1607.6,710.9 L1610.5,711.6 L1613.4,712.2 L1616.4,712.8 L1619.3,713.5 L1622.2,714.1 L1625.1,714.8 L1628.0,715.5 L1631.0,716.2 L1633.9,716.9 L1636.8,717.6 L1639.7,718.4 L1642.6,719.1 L1645.5,719.8 L1648.4,720.6 L1651.3,721.3 L1654.2,722.1 L1657.1,722.8 L1660.0,723.6 L1662.9,724.3 L1665.9,725.1 L1668.8,725.8 L1671.7,726.5 L1674.6,727.2 L1677.5,727.8 L1680.4,728.5 L1683.4,729.0 L1686.3,729.6 L1689.3,730.1 L1692.2,730.6 L1695.2,731.0 L1698.2,731.4 L1701.1,731.7 L1704.1,732.0 L1707.1,732.3 L1710.1,732.5 L1713.1,732.7 L1716.1,732.9 L1719.1,733.0 L1722.1,733.1 L1725.1,733.1 L1728.1,733.2 L1731.1,733.1 L1734.1,733.1 L1737.1,733.0 L1740.0,732.9 L1743.0,732.7 L1746.0,732.5 L1749.0,732.2 L1752.0,731.9 L1755.0,731.4 L1757.9,730.8 L1760.8,730.1 L1763.6,729.1 L1766.4,727.9 L1769.0,726.5 L1771.6,725.0 L1774.2,723.5 L1776.7,721.8 L1779.1,720.0 L1781.5,718.2 L1783.9,716.4 L1786.2,714.6 L1788.6,712.8 L1791.0,711.0 L1793.4,709.1 L1795.7,707.3 L1798.0,705.4 L1800.3,703.5 L1802.6,701.5 L1804.8,699.5 L1807.0,697.5 L1809.2,695.5 L1811.3,693.4 L1813.4,691.2 L1815.4,689.0 L1817.4,686.8 L1819.4,684.6 L1821.4,682.3 L1823.3,680.0 L1825.1,677.7 L1827.0,675.3 L1828.8,672.9 L1830.6,670.5 L1832.3,668.1 L1834.1,665.6 L1835.8,663.2 L1837.4,660.7 L1839.1,658.2 L1840.7,655.6 L1842.2,653.1 L1843.8,650.5 L1845.3,647.9 L1846.8,645.4 L1848.3,642.7 L1849.8,640.1 L1851.2,637.5 L1852.6,634.8 L1854.0,632.2 L1855.4,629.5 L1856.7,626.8 L1858.0,624.2 L1859.4,621.5 L1860.7,618.8 L1862.0,616.1 L1863.2,613.3 L1864.5,610.6 L1865.8,607.9 L1867.0,605.2 L1868.2,602.4 L1869.5,599.7 L1870.7,597.0 L1871.9,594.2 L1873.1,591.5 L1874.3,588.7 L1875.5,585.9 L1876.6,583.2 L1877.8,580.4 L1878.9,577.6 L1880.1,574.9 L1881.2,572.1 L1882.4,569.3 L1883.5,566.5 L1884.6,563.8 L1885.7,561.0 L1886.8,558.2 L1887.9,555.4 L1889.0,552.6 L1890.1,549.8 L1891.2,547.0 L1892.2,544.2 L1893.3,541.4 L1894.3,538.6 L1895.3,535.7 L1896.3,532.9 L1897.3,530.1 L1898.3,527.2 L1899.3,524.4 L1900.2,521.6 L1901.2,518.7 L1902.1,515.9 L1903.0,513.0 L1903.9,510.2 L1904.9,507.3 L1905.8,504.5 L1906.7,501.6 L1907.7,498.8 L1908.7,495.9 L1909.6,493.1 L1910.6,490.3 L1911.6,487.4 L1912.7,484.6 L1913.7,481.8 L1914.7,479.0 L1915.8,476.2 L1916.8,473.3 L1917.8,470.5 L1918.9,467.7 L1919.9,464.9 L1921.0,462.1 L1922.0,459.3 L1923.0,456.5 L1924.0,453.6 L1925.0,450.8 L1926.0,448.0 L1927.0,445.1 L1927.9,442.3 L1928.8,439.4 L1929.8,436.6 L1930.7,433.7 L1931.5,430.8 L1932.4,428.0 L1933.3,425.1 L1934.1,422.2 L1934.9,419.3 L1935.8,416.5 L1936.6,413.6 L1937.4,410.7 L1938.2,407.8 L1939.0,404.9 L1939.8,402.0 L1940.5,399.1 L1941.3,396.2 L1942.1,393.3 L1942.9,390.4 L1943.6,387.5 L1944.4,384.6 L1945.2,381.7 L1945.9,378.8 L1946.7,375.9 L1947.4,373.0 L1948.2,370.1 L1948.9,367.2 L1949.6,364.3 L1950.4,361.4 L1951.1,358.4 L1951.9,355.5 L1952.6,352.6 L1953.3,349.7 L1954.1,346.8 L1954.8,343.9 L1955.6,341.0 L1956.3,338.1 L1957.1,335.2 L1957.9,332.3 L1958.6,329.4 L1959.4,326.5 L1960.2,323.6 L1961.0,320.7 L1961.8,317.8 L1962.6,314.9 L1963.4,312.0 L1964.2,309.2 L1965.1,306.3 L1965.9,303.4 L1966.8,300.5 L1967.7,297.7 L1968.6,294.8 L1969.5,292.0 L1970.4,289.1 L1971.4,286.3 L1972.3,283.4 L1973.3,280.6 L1974.2,277.7 L1975.2,274.9 L1976.1,272.0 L1977.0,269.2 L1977.9,266.3 L1978.7,263.4 L1979.5,260.6 L1980.3,257.7 L1981.1,254.8 L1981.9,251.9 L1982.6,249.0 L1983.4,246.1 L1984.1,243.2 L1984.9,240.3 L1985.6,237.4 L1986.3,234.4 L1987.1,231.5 L1987.8,228.6 L1988.5,225.7 L1989.2,222.8 L1990.0,219.9 L1990.7,217.0 L1991.4,214.1 L1992.1,211.2 L1992.9,208.2 L1993.6,205.3 L1994.3,202.4 L1995.0,199.5 L1995.7,196.6 L1996.5,193.7 L1997.2,190.8 L1997.9,187.8 L1998.6,184.9 L1999.3,182.0 L2000.0,179.1 L2000.6,176.2 L2001.3,173.2 L2002.0,170.3 L2002.7,167.4 L2003.3,164.5 L2004.0,161.5 L2004.6,158.6 L2005.3,155.7 L2005.9,152.8 L2006.6,149.8 L2007.2,146.9 L2007.8,144.0 L2008.5,141.0 L2009.1,138.1 L2009.7,135.2 L2010.4,132.2 L2011.0,129.3 L2011.7,126.4 L2012.4,123.5 L2013.1,120.5 L2013.8,117.6 L2014.4,114.7 L2015.1,111.8 L2015.8,108.9 L2016.5,105.9 L2017.2,103.0 L2017.9,100.1 L2018.5,97.2 L2019.1,94.2 L2019.7,91.3 L2020.3,88.4 L2020.8,85.4 L2021.3,82.4 L2021.7,79.5 L2022.1,76.5 L2022.5,73.5 L2022.9,70.5 L2023.2,67.6 L2023.6,64.6 L2023.8,63.1" fill="none" stroke="#0070C0" stroke-width="17.5" stroke-linecap="round" stroke-linejoin="round"/>
<path d="M176.0,1080.7 L176.2,1077.7 L176.4,1074.7 L176.6,1071.7 L176.8,1068.7 L177.0,1065.7 L177.3,1062.7 L177.6,1059.8 L177.9,1056.8 L178.2,1053.8 L178.6,1050.8 L178.9,1047.8 L179.3,1044.8 L179.7,1041.9 L180.0,1038.9 L180.4,1035.9 L180.8,1032.9 L181.2,1030.0 L181.5,1027.0 L181.9,1024.0 L182.3,1021.0 L182.6,1018.0 L183.0,1015.1 L183.3,1012.1 L183.6,1009.1 L184.0,1006.1 L184.3,1003.1 L184.6,1000.1 L185.0,997.2 L185.3,994.2 L185.7,991.2 L186.0,988.2 L186.4,985.3 L186.8,982.3 L187.2,979.3 L187.7,976.3 L188.1,973.4 L188.6,970.4 L189.1,967.5 L189.6,964.5 L190.1,961.5 L190.7,958.6 L191.2,955.6 L191.8,952.7 L192.4,949.8 L193.0,946.8 L193.6,943.9 L194.2,940.9 L194.8,938.0 L195.5,935.1 L196.3,932.2 L197.4,929.4 L198.8,926.8 L200.7,924.5 L203.0,922.6 L205.5,921.0 L208.2,919.7 L210.9,918.4 L213.7,917.2 L216.4,916.0 L219.2,914.9 L222.0,913.7 L224.8,912.6 L227.6,911.6 L230.4,910.5 L233.2,909.5 L236.0,908.4 L238.8,907.4 L241.6,906.4 L244.5,905.4 L247.3,904.4 L250.1,903.4 L253.0,902.4 L255.8,901.4 L258.6,900.4 L261.4,899.4 L264.3,898.4 L267.1,897.4 L269.9,896.4 L272.7,895.4 L275.6,894.4 L278.4,893.3 L281.2,892.3 L284.1,891.3 L286.9,890.3 L289.7,889.3 L292.5,888.3 L295.4,887.4 L298.2,886.4 L301.1,885.4 L303.9,884.4 L306.8,883.5 L309.6,882.6 L312.5,881.7 L315.3,880.8 L318.2,879.9 L321.1,879.0 L323.9,878.2 L326.8,877.3 L329.7,876.5 L332.6,875.7 L335.5,875.0 L338.4,874.2 L341.3,873.4 L344.2,872.7 L347.1,871.9 L350.0,871.2 L352.9,870.5 L355.9,869.8 L358.8,869.1 L361.7,868.4 L364.6,867.7 L367.6,867.1 L370.5,866.4 L373.4,865.8 L376.4,865.2 L379.3,864.6 L382.2,864.1 L385.2,863.5 L388.2,863.0 L391.1,862.5 L394.1,862.0 L397.0,861.5 L400.0,861.0 L402.9,860.5 L405.9,860.0 L408.9,859.5 L411.8,859.0 L414.8,858.5 L417.7,857.9 L420.7,857.4 L423.6,856.8 L426.6,856.2 L429.5,855.6 L432.4,855.0 L435.4,854.4 L438.3,853.7 L441.2,853.1 L444.1,852.4 L447.1,851.7 L450.0,851.0 L452.9,850.3 L455.8,849.5 L458.7,848.8 L461.6,848.1 L464.5,847.3 L467.4,846.6 L470.4,845.8 L473.3,845.1 L476.2,844.3 L479.1,843.6 L482.0,842.8 L484.9,842.1 L487.8,841.3 L490.7,840.6 L493.6,839.8 L496.5,839.1 L499.4,838.3 L502.3,837.6 L505.2,836.8 L508.1,836.0 L511.0,835.2 L513.9,834.4 L516.7,833.5 L519.6,832.6 L522.5,831.7 L525.3,830.8 L528.1,829.8 L531.0,828.8 L533.8,827.8 L536.6,826.8 L539.4,825.8 L542.2,824.7 L545.1,823.7 L547.9,822.6 L550.7,821.6 L553.5,820.6 L556.4,819.7 L559.2,818.8 L562.1,818.0 L565.0,817.1 L567.9,816.3 L570.7,815.3 L573.5,814.3 L576.3,813.2 L579.0,811.9 L581.7,810.5 L584.2,808.9 L586.7,807.3 L589.2,805.6 L591.6,803.8 L594.0,802.0 L596.4,800.1 L598.8,798.3 L601.1,796.4 L603.4,794.5 L605.8,792.7 L608.1,790.8 L610.5,788.9 L612.8,787.1 L615.2,785.2 L617.6,783.4 L619.9,781.5 L622.3,779.6 L624.6,777.8 L627.0,775.9 L629.4,774.1 L631.7,772.2 L634.1,770.4 L636.4,768.5 L638.8,766.7 L641.2,764.8 L643.5,763.0 L646.0,761.2 L648.4,759.5 L650.9,757.8 L653.4,756.2 L656.0,754.7 L658.7,753.3 L661.4,752.0 L664.2,750.9 L667.0,749.8 L669.8,748.9 L672.7,748.0 L675.6,747.2 L678.5,746.5 L681.4,745.8 L684.3,745.1 L687.2,744.3 L690.1,743.6 L693.1,742.9 L696.0,742.2 L698.9,741.4 L701.8,740.7 L704.7,740.0 L707.6,739.2 L710.5,738.5 L713.4,737.8 L716.3,737.0 L719.2,736.3 L722.2,735.6 L725.1,734.9 L728.0,734.1 L730.9,733.4 L733.8,732.7 L736.7,732.0 L739.7,731.3 L742.6,730.6 L745.5,729.9 L748.4,729.2 L751.3,728.5 L754.3,727.9 L757.2,727.2 L760.1,726.5 L763.0,725.8 L765.9,725.1 L768.9,724.4 L771.8,723.8 L774.7,723.1 L777.6,722.4 L780.6,721.7 L783.5,721.0 L786.4,720.3 L789.3,719.6 L792.2,718.9 L795.1,718.2 L798.1,717.5 L801.0,716.7 L803.9,716.0 L806.8,715.2 L809.7,714.4 L812.6,713.6 L815.4,712.8 L818.3,711.9 L821.2,711.1 L824.0,710.2 L826.9,709.2 L829.7,708.3 L832.6,707.4 L835.4,706.4 L838.3,705.4 L841.1,704.4 L843.9,703.4 L846.8,702.4 L849.6,701.4 L852.4,700.4 L855.3,699.4 L858.1,698.4 L860.9,697.4 L863.7,696.4 L866.6,695.5 L869.4,694.5 L872.3,693.5 L875.1,692.5 L877.9,691.5 L880.7,690.5 L883.6,689.5 L886.4,688.4 L889.2,687.3 L892.0,686.3 L894.7,685.2 L897.5,684.0 L900.3,682.8 L903.0,681.7 L905.8,680.4 L908.5,679.2 L911.2,678.0 L914.0,676.7 L916.7,675.4 L919.4,674.1 L922.1,672.9 L924.8,671.6 L927.5,670.3 L930.3,669.1 L933.0,667.9 L935.8,666.6 L938.5,665.5 L941.3,664.3 L944.0,663.1 L946.8,662.0 L949.6,660.9 L952.4,659.8 L955.2,658.7 L958.0,657.6 L960.8,656.5 L963.6,655.5 L966.4,654.4 L969.2,653.4 L972.0,652.3 L974.8,651.2 L977.6,650.1 L980.4,649.0 L983.2,647.9 L986.0,646.8 L988.7,645.6 L991.5,644.4 L994.2,643.2 L996.9,641.9 L999.6,640.6 L1002.3,639.3 L1004.9,637.9 L1007.6,636.5 L1010.2,635.1 L1012.8,633.6 L1015.5,632.2 L1018.1,630.8 L1020.7,629.3 L1023.4,627.9 L1026.0,626.5 L1028.7,625.1 L1031.3,623.7 L1034.0,622.3 L1036.7,620.9 L1039.3,619.6 L1042.0,618.3 L1044.7,616.9 L1047.4,615.7 L1050.1,614.4 L1052.9,613.1 L1055.6,611.9 L1058.4,610.7 L1061.1,609.5 L1063.9,608.3 L1066.6,607.2 L1069.4,606.0 L1072.2,604.9 L1075.0,603.8 L1077.8,602.7 L1080.6,601.6 L1083.4,600.5 L1086.1,599.4 L1088.9,598.3 L1091.7,597.2 L1094.5,596.1 L1097.3,594.9 L1100.1,593.8 L1102.9,592.7 L1105.7,591.6 L1108.4,590.5 L1111.2,589.4 L1114.0,588.3 L1116.8,587.3 L1119.6,586.2 L1122.5,585.2 L1125.3,584.2 L1128.1,583.3 L1131.0,582.5 L1133.9,581.7 L1136.8,581.1 L1139.8,580.5 L1142.7,580.1 L1145.7,579.7 L1148.7,579.4 L1151.7,579.2 L1154.7,579.1 L1157.7,579.1 L1160.7,579.1 L1163.7,579.3 L1166.7,579.5 L1169.6,579.9 L1172.6,580.4 L1175.5,581.2 L1178.3,582.2 L1181.0,583.3 L1183.7,584.6 L1186.4,586.0 L1189.0,587.4 L1191.5,589.0 L1194.1,590.6 L1196.6,592.2 L1199.0,593.9 L1201.5,595.6 L1203.9,597.4 L1206.3,599.2 L1208.7,601.0 L1211.1,602.8 L1213.5,604.6 L1215.8,606.5 L1218.1,608.4 L1220.4,610.3 L1222.7,612.2 L1225.0,614.2 L1227.3,616.1 L1229.6,618.1 L1231.8,620.0 L1234.1,622.0 L1236.3,624.0 L1238.6,626.0 L1240.9,628.0 L1243.1,630.0 L1245.4,631.9 L1247.6,633.9 L1249.9,635.9 L1252.1,637.9 L1254.4,639.9 L1256.6,641.8 L1258.9,643.8 L1261.2,645.7 L1263.5,647.6 L1265.8,649.6 L1268.1,651.5 L1270.4,653.4 L1272.7,655.3 L1275.1,657.2 L1277.4,659.1 L1279.7,661.0 L1282.0,663.0 L1284.3,664.9 L1286.6,666.8 L1288.9,668.7 L1291.2,670.6 L1293.5,672.6 L1295.8,674.5 L1298.1,676.4 L1300.4,678.4 L1302.7,680.3 L1305.0,682.3 L1307.2,684.2 L1309.5,686.2 L1311.8,688.2 L1314.0,690.1 L1316.3,692.1 L1318.6,694.1 L1320.8,696.0 L1323.1,698.0 L1325.3,700.0 L1327.6,702.0 L1329.9,704.0 L1332.1,705.9 L1334.4,707.9 L1336.6,709.9 L1338.9,711.8 L1341.2,713.8 L1343.5,715.7 L1345.8,717.6 L1348.1,719.6 L1350.4,721.5 L1352.7,723.4 L1355.1,725.3 L1357.4,727.2 L1359.7,729.1 L1362.0,731.0 L1364.3,732.9 L1366.6,734.8 L1368.9,736.8 L1371.2,738.7 L1373.5,740.6 L1375.8,742.6 L1378.1,744.5 L1380.4,746.5 L1382.7,748.4 L1384.9,750.4 L1387.2,752.3 L1389.5,754.3 L1391.7,756.3 L1394.0,758.2 L1396.2,760.2 L1398.5,762.2 L1400.8,764.2 L1403.0,766.1 L1405.3,768.1 L1407.5,770.1 L1409.8,772.1 L1412.1,774.0 L1414.3,776.0 L1416.6,778.0 L1418.9,780.0 L1421.1,781.9 L1423.4,783.9 L1425.7,785.8 L1428.0,787.8 L1430.3,789.7 L1432.6,791.6 L1434.9,793.5 L1437.3,795.4 L1439.6,797.2 L1442.0,799.0 L1444.4,800.8 L1446.8,802.6 L1449.2,804.4 L1451.7,806.1 L1454.1,807.8 L1456.6,809.5 L1459.1,811.2 L1461.6,812.9 L1464.1,814.6 L1466.6,816.2 L1469.1,817.9 L1471.6,819.5 L1474.1,821.2 L1476.6,822.8 L1479.1,824.5 L1481.6,826.1 L1484.1,827.8 L1486.6,829.4 L1489.1,831.1 L1491.7,832.7 L1494.2,834.3 L1496.7,835.9 L1499.3,837.5 L1501.8,839.1 L1504.4,840.7 L1506.9,842.2 L1509.5,843.7 L1512.1,845.3 L1514.7,846.8 L1517.3,848.2 L1519.9,849.7 L1522.5,851.2 L1525.2,852.6 L1527.8,854.1 L1530.4,855.5 L1533.1,856.9 L1535.7,858.4 L1538.4,859.8 L1541.0,861.2 L1543.7,862.6 L1546.3,864.0 L1549.0,865.3 L1551.7,866.7 L1554.3,868.1 L1557.0,869.4 L1559.7,870.8 L1562.4,872.1 L1565.1,873.4 L1567.8,874.7 L1570.5,876.0 L1573.2,877.3 L1575.9,878.6 L1578.6,879.9 L1581.4,881.1 L1584.1,882.3 L1586.9,883.5 L1589.6,884.6 L1592.4,885.7 L1595.2,886.8 L1598.0,887.9 L1600.8,889.0 L1603.6,890.0 L1606.5,891.0 L1609.3,892.0 L1612.1,893.0 L1614.9,894.0 L1617.8,895.0 L1620.6,896.0 L1623.4,897.0 L1626.3,898.0 L1629.1,899.0 L1631.9,900.0 L1634.7,901.1 L1637.6,902.1 L1640.4,903.1 L1643.2,904.2 L1646.0,905.2 L1648.8,906.3 L1651.6,907.4 L1654.4,908.5 L1657.2,909.6 L1659.9,910.8 L1662.7,911.9 L1665.5,913.1 L1668.2,914.2 L1671.0,915.4 L1673.7,916.6 L1676.5,917.8 L1679.3,918.9 L1682.0,920.0 L1684.8,921.1 L1687.6,922.2 L1690.4,923.2 L1693.3,924.2 L1696.1,925.0 L1699.0,925.9 L1701.9,926.7 L1704.8,927.4 L1707.7,928.0 L1710.6,928.6 L1713.6,929.1 L1716.5,929.6 L1719.5,930.1 L1722.4,930.5 L1725.4,930.8 L1728.4,931.1 L1731.4,931.4 L1734.4,931.6 L1737.4,931.9 L1740.4,932.1 L1743.3,932.2 L1746.3,932.4 L1749.3,932.5 L1752.3,932.6 L1755.3,932.7 L1758.3,932.8 L1761.3,932.8 L1764.3,932.8 L1767.3,932.8 L1770.3,932.7 L1773.3,932.6 L1776.3,932.4 L1779.3,932.2 L1782.3,931.8 L1785.2,931.3 L1788.1,930.6 L1791.0,929.7 L1793.8,928.5 L1796.4,927.1 L1799.0,925.6 L1801.5,924.0 L1804.0,922.3 L1806.5,920.7 L1809.0,919.0 L1811.6,917.4 L1814.1,915.9 L1816.8,914.4 L1819.4,913.0 L1822.1,911.6 L1824.7,910.3 L1827.4,908.9 L1830.0,907.5 L1832.6,906.0 L1835.1,904.5 L1837.7,902.9 L1840.2,901.3 L1842.6,899.6 L1845.0,897.9 L1847.3,896.0 L1849.5,894.1 L1851.7,892.1 L1853.8,890.0 L1855.8,887.9 L1857.8,885.6 L1859.7,883.4 L1861.5,881.0 L1863.3,878.6 L1865.0,876.2 L1866.8,873.8 L1868.5,871.4 L1870.2,868.9 L1871.9,866.5 L1873.7,864.1 L1875.5,861.6 L1877.2,859.2 L1879.0,856.8 L1880.9,854.5 L1882.7,852.1 L1884.5,849.7 L1886.3,847.3 L1888.1,844.9 L1889.9,842.5 L1891.7,840.1 L1893.4,837.7 L1895.2,835.2 L1896.9,832.7 L1898.5,830.2 L1900.1,827.7 L1901.7,825.2 L1903.3,822.6 L1904.8,820.1 L1906.4,817.5 L1907.9,814.9 L1909.4,812.3 L1910.8,809.7 L1912.3,807.1 L1913.8,804.4 L1915.2,801.8 L1916.7,799.2 L1918.1,796.6 L1919.6,793.9 L1921.0,791.3 L1922.5,788.7 L1924.0,786.1 L1925.4,783.4 L1926.9,780.8 L1928.3,778.2 L1929.7,775.5 L1931.2,772.9 L1932.6,770.3 L1934.1,767.7 L1935.5,765.0 L1937.0,762.4 L1938.4,759.8 L1939.8,757.1 L1941.3,754.5 L1942.7,751.8 L1944.1,749.2 L1945.6,746.6 L1947.0,743.9 L1948.5,741.3 L1949.9,738.7 L1951.4,736.1 L1952.9,733.5 L1954.4,730.9 L1955.9,728.3 L1957.4,725.7 L1958.9,723.1 L1960.4,720.5 L1962.0,717.9 L1963.5,715.4 L1965.1,712.8 L1966.7,710.2 L1968.2,707.7 L1969.8,705.2 L1971.4,702.6 L1973.0,700.1 L1974.7,697.5 L1976.3,695.0 L1977.9,692.5 L1979.5,690.0 L1981.2,687.5 L1982.8,685.0 L1984.5,682.4 L1986.1,679.9 L1987.8,677.4 L1989.4,674.9 L1991.1,672.5 L1992.8,670.0 L1994.5,667.5 L1996.2,665.0 L1997.9,662.5 L1999.6,660.1 L2001.3,657.6 L2003.0,655.1 L2004.7,652.7 L2006.4,650.2 L2008.2,647.8 L2009.9,645.3 L2011.7,642.9 L2013.4,640.4 L2015.2,638.0 L2016.9,635.6 L2018.7,633.1 L2020.4,630.7 L2022.2,628.3 L2023.9,625.8 L2025.7,623.4" fill="none" stroke="#215A22" stroke-width="17.5" stroke-linecap="round" stroke-linejoin="round"/>
<path d="M176.0,1236.4 L176.2,1233.4 L176.3,1230.4 L176.5,1227.4 L176.9,1224.4 L177.4,1221.5 L177.9,1218.6 L178.7,1215.7 L179.6,1212.8 L180.8,1210.1 L182.3,1207.5 L184.2,1205.2 L186.3,1203.1 L188.6,1201.1 L191.0,1199.4 L193.5,1197.8 L196.1,1196.3 L198.8,1194.9 L201.5,1193.6 L204.2,1192.3 L206.9,1191.0 L209.6,1189.7 L212.3,1188.4 L215.0,1187.1 L217.7,1185.8 L220.4,1184.5 L223.1,1183.2 L225.8,1181.9 L228.5,1180.6 L231.2,1179.4 L234.0,1178.1 L236.7,1176.8 L239.4,1175.5 L242.1,1174.3 L244.8,1173.0 L247.6,1171.7 L250.3,1170.5 L253.0,1169.3 L255.8,1168.0 L258.5,1166.8 L261.2,1165.6 L264.0,1164.4 L266.7,1163.2 L269.5,1162.0 L272.3,1160.8 L275.0,1159.7 L277.8,1158.5 L280.6,1157.4 L283.4,1156.3 L286.1,1155.2 L288.9,1154.0 L291.7,1153.0 L294.5,1151.9 L297.3,1150.8 L300.1,1149.7 L302.9,1148.7 L305.8,1147.6 L308.6,1146.6 L311.4,1145.6 L314.2,1144.5 L317.0,1143.5 L319.9,1142.5 L322.7,1141.5 L325.5,1140.6 L328.4,1139.6 L331.2,1138.7 L334.1,1137.7 L336.9,1136.8 L339.8,1136.0 L342.7,1135.1 L345.6,1134.3 L348.4,1133.4 L351.3,1132.6 L354.2,1131.8 L357.1,1131.0 L360.0,1130.1 L362.9,1129.3 L365.7,1128.5 L368.6,1127.6 L371.5,1126.8 L374.4,1125.9 L377.2,1125.0 L380.1,1124.0 L382.9,1123.1 L385.7,1122.1 L388.6,1121.1 L391.4,1120.1 L394.2,1119.1 L397.0,1118.0 L399.8,1117.0 L402.6,1115.9 L405.4,1114.8 L408.2,1113.7 L411.0,1112.6 L413.8,1111.5 L416.6,1110.5 L419.4,1109.4 L422.2,1108.3 L425.0,1107.2 L427.8,1106.2 L430.6,1105.1 L433.5,1104.1 L436.3,1103.0 L439.1,1102.0 L441.9,1101.0 L444.7,1099.9 L447.6,1098.9 L450.4,1097.9 L453.2,1096.9 L456.0,1095.9 L458.9,1094.9 L461.7,1093.9 L464.5,1092.8 L467.3,1091.8 L470.1,1090.7 L472.9,1089.7 L475.7,1088.6 L478.5,1087.4 L481.3,1086.3 L484.0,1085.1 L486.8,1083.9 L489.5,1082.7 L492.2,1081.5 L495.0,1080.2 L497.7,1079.0 L500.4,1077.7 L503.1,1076.4 L505.8,1075.1 L508.5,1073.8 L511.2,1072.4 L513.9,1071.1 L516.6,1069.8 L519.3,1068.4 L521.9,1067.1 L524.6,1065.7 L527.3,1064.4 L530.0,1063.0 L532.7,1061.7 L535.3,1060.3 L538.0,1059.0 L540.7,1057.6 L543.4,1056.3 L546.1,1055.0 L548.8,1053.7 L551.5,1052.4 L554.2,1051.1 L556.9,1049.8 L559.6,1048.6 L562.4,1047.3 L565.1,1046.1 L567.8,1044.9 L570.6,1043.6 L573.3,1042.4 L576.0,1041.2 L578.8,1039.9 L581.5,1038.6 L584.2,1037.3 L586.9,1036.0 L589.5,1034.7 L592.2,1033.3 L594.9,1031.9 L597.5,1030.5 L600.1,1029.1 L602.8,1027.6 L605.4,1026.1 L608.0,1024.7 L610.6,1023.2 L613.2,1021.6 L615.7,1020.1 L618.3,1018.5 L620.8,1017.0 L623.4,1015.4 L625.9,1013.7 L628.4,1012.1 L630.9,1010.5 L633.4,1008.8 L635.9,1007.1 L638.4,1005.5 L640.9,1003.8 L643.4,1002.1 L645.9,1000.4 L648.4,998.7 L650.8,997.0 L653.3,995.4 L655.8,993.7 L658.3,992.0 L660.8,990.3 L663.3,988.7 L665.8,987.0 L668.3,985.4 L670.8,983.7 L673.4,982.1 L675.9,980.5 L678.4,978.9 L681.0,977.3 L683.5,975.7 L686.1,974.2 L688.7,972.7 L691.3,971.2 L693.9,969.7 L696.5,968.3 L699.2,966.9 L701.8,965.5 L704.5,964.2 L707.2,962.9 L709.9,961.6 L712.6,960.3 L715.3,959.1 L718.1,957.8 L720.8,956.6 L723.5,955.3 L726.2,954.1 L728.9,952.8 L731.6,951.4 L734.3,950.1 L737.0,948.7 L739.6,947.3 L742.2,945.8 L744.8,944.3 L747.4,942.8 L749.9,941.2 L752.4,939.6 L755.0,938.0 L757.5,936.4 L760.0,934.7 L762.5,933.1 L765.0,931.5 L767.6,929.9 L770.1,928.3 L772.7,926.7 L775.2,925.2 L777.8,923.7 L780.4,922.2 L783.1,920.8 L785.7,919.4 L788.4,918.1 L791.1,916.8 L793.8,915.5 L796.5,914.2 L799.2,912.9 L801.9,911.6 L804.6,910.3 L807.3,909.0 L810.0,907.7 L812.7,906.3 L815.3,904.9 L817.9,903.4 L820.5,902.0 L823.1,900.5 L825.7,898.9 L828.2,897.3 L830.7,895.7 L833.2,894.1 L835.7,892.4 L838.2,890.7 L840.7,889.0 L843.2,887.3 L845.6,885.6 L848.1,883.9 L850.6,882.2 L853.1,880.5 L855.5,878.8 L858.0,877.2 L860.5,875.5 L863.0,873.8 L865.5,872.2 L868.0,870.5 L870.5,868.9 L873.1,867.2 L875.6,865.6 L878.1,864.0 L880.6,862.4 L883.2,860.8 L885.8,859.3 L888.3,857.7 L890.9,856.2 L893.5,854.7 L896.1,853.2 L898.8,851.8 L901.4,850.4 L904.0,849.0 L906.7,847.6 L909.4,846.3 L912.1,844.9 L914.8,843.6 L917.5,842.3 L920.2,841.0 L922.9,839.7 L925.6,838.5 L928.3,837.2 L931.0,835.9 L933.7,834.6 L936.5,833.3 L939.2,832.0 L941.9,830.8 L944.6,829.5 L947.3,828.1 L950.0,826.8 L952.6,825.4 L955.3,824.0 L957.9,822.6 L960.5,821.2 L963.1,819.6 L965.6,818.1 L968.1,816.4 L970.6,814.7 L973.0,813.0 L975.3,811.2 L977.6,809.3 L979.9,807.4 L982.2,805.4 L984.4,803.4 L986.6,801.4 L988.8,799.3 L990.9,797.2 L993.1,795.2 L995.3,793.1 L997.4,791.0 L999.6,788.9 L1001.8,786.9 L1004.0,784.8 L1006.2,782.8 L1008.4,780.8 L1010.6,778.8 L1012.8,776.8 L1015.1,774.8 L1017.3,772.8 L1019.6,770.8 L1021.8,768.8 L1024.1,766.8 L1026.3,764.8 L1028.6,762.8 L1030.8,760.9 L1033.1,758.9 L1035.3,756.9 L1037.6,754.9 L1039.9,753.0 L1042.1,751.0 L1044.4,749.0 L1046.7,747.1 L1048.9,745.1 L1051.2,743.2 L1053.5,741.2 L1055.8,739.2 L1058.0,737.3 L1060.3,735.3 L1062.6,733.4 L1064.9,731.4 L1067.1,729.4 L1069.4,727.5 L1071.7,725.5 L1073.9,723.5 L1076.2,721.5 L1078.4,719.6 L1080.7,717.6 L1082.9,715.6 L1085.2,713.6 L1087.4,711.6 L1089.6,709.6 L1091.9,707.6 L1094.1,705.6 L1096.3,703.6 L1098.6,701.6 L1100.8,699.6 L1103.0,697.5 L1105.2,695.5 L1107.5,693.5 L1109.7,691.5 L1111.9,689.5 L1114.1,687.5 L1116.3,685.4 L1118.6,683.4 L1120.8,681.4 L1123.0,679.4 L1125.2,677.3 L1127.4,675.3 L1129.7,673.3 L1131.9,671.3 L1134.1,669.3 L1136.4,667.3 L1138.6,665.3 L1140.9,663.3 L1143.2,661.4 L1145.5,659.5 L1147.8,657.6 L1150.2,655.8 L1152.5,653.9 L1154.9,652.1 L1157.4,650.4 L1159.8,648.7 L1162.3,647.0 L1164.9,645.5 L1167.6,644.2 L1170.4,643.1 L1173.3,642.4 L1176.3,642.0 L1179.2,642.0 L1182.2,642.4 L1185.1,642.9 L1188.0,643.8 L1190.7,644.8 L1193.4,646.1 L1196.0,647.6 L1198.4,649.3 L1200.8,651.0 L1203.1,652.9 L1205.3,654.9 L1207.5,656.9 L1209.6,659.0 L1211.6,661.2 L1213.6,663.4 L1215.6,665.6 L1217.6,667.9 L1219.5,670.2 L1221.4,672.5 L1223.2,674.8 L1225.1,677.2 L1226.8,679.6 L1228.6,682.1 L1230.4,684.5 L1232.1,686.9 L1233.8,689.4 L1235.5,691.9 L1237.2,694.4 L1238.9,696.8 L1240.5,699.3 L1242.2,701.8 L1243.9,704.3 L1245.6,706.8 L1247.3,709.3 L1249.0,711.8 L1250.7,714.2 L1252.4,716.7 L1254.1,719.2 L1255.8,721.6 L1257.6,724.0 L1259.3,726.5 L1261.1,728.9 L1262.9,731.3 L1264.7,733.7 L1266.5,736.1 L1268.3,738.5 L1270.2,740.9 L1272.0,743.2 L1273.9,745.5 L1275.8,747.9 L1277.7,750.2 L1279.7,752.4 L1281.6,754.7 L1283.6,757.0 L1285.6,759.2 L1287.6,761.4 L1289.6,763.6 L1291.7,765.8 L1293.7,768.0 L1295.8,770.2 L1297.8,772.4 L1299.9,774.6 L1302.0,776.7 L1304.0,778.9 L1306.1,781.1 L1308.2,783.3 L1310.2,785.5 L1312.3,787.6 L1314.3,789.8 L1316.4,792.0 L1318.4,794.2 L1320.5,796.4 L1322.5,798.6 L1324.5,800.8 L1326.6,803.1 L1328.6,805.3 L1330.6,807.5 L1332.7,809.6 L1334.7,811.8 L1336.8,814.0 L1338.9,816.2 L1341.0,818.3 L1343.1,820.5 L1345.2,822.6 L1347.3,824.7 L1349.5,826.8 L1351.6,828.9 L1353.8,830.9 L1356.0,833.0 L1358.2,835.0 L1360.4,837.1 L1362.6,839.1 L1364.8,841.1 L1367.0,843.2 L1369.3,845.2 L1371.5,847.2 L1373.7,849.2 L1376.0,851.2 L1378.2,853.2 L1380.4,855.2 L1382.7,857.2 L1384.9,859.2 L1387.1,861.2 L1389.3,863.2 L1391.6,865.2 L1393.8,867.3 L1396.0,869.3 L1398.2,871.3 L1400.4,873.3 L1402.7,875.3 L1404.9,877.4 L1407.1,879.4 L1409.3,881.4 L1411.5,883.5 L1413.7,885.5 L1415.9,887.5 L1418.1,889.5 L1420.4,891.6 L1422.6,893.6 L1424.8,895.7 L1427.0,897.7 L1429.2,899.7 L1431.4,901.8 L1433.5,903.8 L1435.7,905.9 L1437.9,908.0 L1440.1,910.0 L1442.3,912.1 L1444.4,914.2 L1446.6,916.3 L1448.7,918.3 L1450.9,920.4 L1453.1,922.5 L1455.2,924.6 L1457.4,926.7 L1459.5,928.8 L1461.7,930.8 L1463.9,932.9 L1466.1,934.9 L1468.3,937.0 L1470.5,939.0 L1472.7,941.0 L1475.0,943.0 L1477.2,945.0 L1479.5,946.9 L1481.8,948.9 L1484.1,950.8 L1486.4,952.7 L1488.7,954.6 L1491.1,956.5 L1493.4,958.3 L1495.8,960.2 L1498.1,962.0 L1500.5,963.9 L1502.9,965.7 L1505.3,967.5 L1507.7,969.3 L1510.1,971.1 L1512.6,972.8 L1515.0,974.6 L1517.4,976.3 L1519.9,978.1 L1522.3,979.8 L1524.8,981.5 L1527.3,983.2 L1529.7,984.9 L1532.2,986.6 L1534.7,988.2 L1537.3,989.8 L1539.8,991.4 L1542.3,993.0 L1544.9,994.6 L1547.5,996.1 L1550.1,997.6 L1552.6,999.2 L1555.2,1000.6 L1557.9,1002.1 L1560.5,1003.6 L1563.1,1005.1 L1565.7,1006.5 L1568.3,1008.0 L1570.9,1009.5 L1573.6,1010.9 L1576.2,1012.4 L1578.8,1013.9 L1581.4,1015.4 L1584.0,1016.9 L1586.6,1018.4 L1589.2,1019.9 L1591.8,1021.4 L1594.4,1022.9 L1597.0,1024.4 L1599.6,1025.8 L1602.2,1027.2 L1604.9,1028.6 L1607.5,1030.0 L1610.2,1031.3 L1612.9,1032.6 L1615.6,1033.9 L1618.4,1035.1 L1621.1,1036.3 L1623.9,1037.5 L1626.6,1038.6 L1629.4,1039.8 L1632.2,1040.9 L1634.9,1042.1 L1637.7,1043.3 L1640.4,1044.5 L1643.2,1045.7 L1645.9,1047.0 L1648.6,1048.3 L1651.2,1049.6 L1653.9,1051.0 L1656.5,1052.5 L1659.1,1053.9 L1661.7,1055.4 L1664.3,1056.9 L1666.9,1058.4 L1669.5,1060.0 L1672.0,1061.5 L1674.6,1063.1 L1677.2,1064.6 L1679.8,1066.2 L1682.4,1067.7 L1684.9,1069.2 L1687.5,1070.7 L1690.1,1072.2 L1692.8,1073.7 L1695.4,1075.1 L1698.0,1076.6 L1700.6,1078.0 L1703.2,1079.5 L1705.9,1080.9 L1708.5,1082.4 L1711.1,1083.8 L1713.8,1085.2 L1716.4,1086.7 L1719.0,1088.1 L1721.7,1089.6 L1724.3,1091.0 L1726.9,1092.5 L1729.6,1093.9 L1732.2,1095.3 L1734.8,1096.8 L1737.5,1098.2 L1740.1,1099.7 L1742.7,1101.2 L1745.3,1102.6 L1748.0,1104.1 L1750.6,1105.5 L1753.2,1107.0 L1755.8,1108.5 L1758.4,1109.9 L1761.1,1111.4 L1763.7,1112.9 L1766.3,1114.3 L1768.9,1115.8 L1771.5,1117.2 L1774.2,1118.7 L1776.8,1120.1 L1779.4,1121.5 L1782.1,1122.9 L1784.8,1124.3 L1787.5,1125.6 L1790.1,1126.9 L1792.9,1128.2 L1795.6,1129.5 L1798.3,1130.7 L1801.1,1131.9 L1803.8,1133.1 L1806.6,1134.2 L1809.4,1135.3 L1812.2,1136.4 L1815.0,1137.5 L1817.8,1138.4 L1820.6,1139.4 L1823.5,1140.3 L1826.4,1141.1 L1829.3,1141.8 L1832.2,1142.4 L1835.2,1142.9 L1838.2,1143.2 L1841.2,1143.4 L1844.2,1143.4 L1847.1,1143.3 L1850.1,1143.0 L1853.1,1142.6 L1856.0,1141.9 L1858.9,1141.1 L1861.7,1140.2 L1864.5,1139.1 L1867.2,1137.8 L1869.9,1136.4 L1872.5,1135.0 L1875.1,1133.5 L1877.6,1131.9 L1880.2,1130.3 L1882.6,1128.7 L1885.1,1127.0 L1887.5,1125.2 L1889.9,1123.4 L1892.2,1121.5 L1894.5,1119.7 L1896.8,1117.7 L1899.0,1115.7 L1901.2,1113.7 L1903.2,1111.6 L1905.2,1109.4 L1907.2,1107.2 L1909.1,1104.9 L1911.0,1102.5 L1912.8,1100.2 L1914.5,1097.8 L1916.3,1095.3 L1918.0,1092.9 L1919.7,1090.4 L1921.5,1088.0 L1923.1,1085.5 L1924.8,1083.0 L1926.5,1080.5 L1928.1,1078.0 L1929.7,1075.5 L1931.3,1072.9 L1932.8,1070.4 L1934.4,1067.8 L1935.9,1065.2 L1937.4,1062.6 L1938.9,1060.0 L1940.3,1057.4 L1941.8,1054.7 L1943.2,1052.1 L1944.7,1049.5 L1946.1,1046.8 L1947.5,1044.2 L1948.9,1041.6 L1950.4,1038.9 L1951.8,1036.3 L1953.2,1033.6 L1954.6,1031.0 L1956.0,1028.3 L1957.5,1025.7 L1958.9,1023.1 L1960.4,1020.4 L1961.8,1017.8 L1963.3,1015.2 L1964.8,1012.6 L1966.3,1010.0 L1967.8,1007.4 L1969.3,1004.8 L1970.9,1002.3 L1972.4,999.7 L1974.0,997.2 L1975.6,994.6 L1977.2,992.1 L1978.9,989.6 L1980.6,987.1 L1982.2,984.6 L1983.9,982.1 L1985.6,979.7 L1987.4,977.2 L1989.1,974.8 L1990.9,972.4 L1992.7,969.9 L1994.4,967.5 L1996.2,965.1 L1998.0,962.7 L1999.9,960.4 L2001.7,958.0 L2003.6,955.6 L2005.4,953.3 L2007.3,951.0 L2009.2,948.6 L2011.1,946.3 L2013.0,944.0 L2015.0,941.7 L2016.9,939.4 L2018.8,937.1 L2020.7,934.7 L2022.6,932.4 L2024.5,930.1" fill="none" stroke="#040A12" stroke-width="17.5" stroke-linecap="round" stroke-linejoin="round"/>
<path d="M131.9,627.5 L132.0,626.0 L132.0,624.5 L132.1,623.0 L132.3,621.5 L132.4,620.0 L132.6,618.5 L132.8,617.1 L133.1,615.6 L133.3,614.1 L133.5,612.6 L133.8,611.1 L134.1,609.7 L134.3,608.2 L134.6,606.7 L134.9,605.2 L135.1,603.8 L135.4,602.3 L135.7,600.8 L135.9,599.3 L136.1,597.8 L136.4,596.4 L136.6,594.9 L136.8,593.4 L137.0,591.9 L137.2,590.4 L137.4,588.9 L137.6,587.4 L137.8,586.0 L138.0,584.5 L138.2,583.0 L138.3,581.5 L138.5,580.0 L138.7,578.5 L138.8,577.0 L139.0,575.5 L139.1,574.0 L139.3,572.5 L139.4,571.1 L139.6,569.6 L139.7,568.1 L139.8,566.6 L140.0,565.1 L140.1,563.6 L140.2,562.1 L140.4,560.6 L140.5,559.1 L140.6,557.6 L140.8,556.1 L140.9,554.6 L141.0,553.1 L141.2,551.6 L141.3,550.1 L141.4,548.6 L141.6,547.1 L141.7,545.7 L141.9,544.2 L142.0,542.7 L142.2,541.2 L142.4,539.7 L142.5,538.2 L142.7,536.7 L142.9,535.2 L143.0,533.7 L143.2,532.2 L143.4,530.7 L143.6,529.3 L143.8,527.8 L144.0,526.3 L144.1,524.8 L144.3,523.3 L144.5,521.8 L144.7,520.3 L144.9,518.8 L145.2,517.4 L145.4,515.9 L145.6,514.4 L145.8,512.9 L146.0,511.4 L146.3,509.9 L146.5,508.5 L146.8,507.0 L147.0,505.5 L147.3,504.0 L147.5,502.5 L147.8,501.1 L148.1,499.6 L148.4,498.1 L148.7,496.6 L149.0,495.2" fill="none" stroke="#ED7D31" stroke-opacity="0.85" stroke-width="7" stroke-dasharray="1.6 3.4"/>
<path d="M1992.9,279.7 L1993.4,278.3 L1994.0,276.9 L1994.5,275.5 L1995.0,274.1 L1995.5,272.7 L1996.0,271.3 L1996.5,269.9 L1997.0,268.5 L1997.5,267.1 L1997.9,265.6 L1998.4,264.2 L1998.9,262.8 L1999.4,261.4 L1999.8,259.9 L2000.3,258.5 L2000.8,257.1 L2001.3,255.7 L2001.8,254.3 L2002.2,252.8 L2002.7,251.4 L2003.2,250.0 L2003.7,248.6 L2004.1,247.1 L2004.6,245.7 L2005.1,244.3 L2005.6,242.9 L2006.1,241.5 L2006.5,240.0 L2007.0,238.6 L2007.5,237.2 L2008.0,235.8 L2008.4,234.3 L2008.9,232.9 L2009.4,231.5 L2009.8,230.1 L2010.3,228.6 L2010.7,227.2 L2011.2,225.8 L2011.6,224.3 L2012.0,222.9 L2012.5,221.5 L2012.9,220.0 L2013.3,218.6 L2013.7,217.1 L2014.1,215.7 L2014.5,214.2 L2014.9,212.8 L2015.3,211.4 L2015.7,209.9 L2016.0,208.4 L2016.4,207.0 L2016.7,205.5 L2017.1,204.1 L2017.5,202.6 L2017.8,201.2 L2018.1,199.7 L2018.5,198.2 L2018.8,196.8 L2019.2,195.3 L2019.5,193.9 L2019.8,192.4 L2020.1,190.9 L2020.4,189.4 L2020.7,188.0 L2021.0,186.5 L2021.3,185.0 L2021.6,183.6 L2021.8,182.1 L2022.1,180.6 L2022.4,179.1 L2022.6,177.7 L2022.9,176.2 L2023.1,174.7 L2023.4,173.2 L2023.6,171.7 L2023.8,170.2 L2024.0,168.8 L2024.2,167.3 L2024.4,165.8 L2024.7,164.3 L2024.9,162.8 L2025.1,161.3" fill="none" stroke="#ED7D31" stroke-opacity="0.75" stroke-width="7" stroke-dasharray="1.6 3.4"/>
<path d="M172.5,892.4 L172.7,890.9 L172.9,889.4 L173.0,887.9 L173.2,886.5 L173.4,885.0 L173.6,883.5 L173.8,882.0 L174.0,880.5 L174.3,879.0 L174.5,877.5 L174.7,876.1 L174.9,874.6 L175.1,873.1 L175.3,871.6 L175.5,870.1 L175.8,868.6 L176.0,867.2 L176.2,865.7 L176.4,864.2 L176.6,862.7 L176.9,861.2 L177.1,859.7 L177.3,858.2 L177.5,856.8 L177.7,855.3 L177.9,853.8 L178.2,852.3 L178.4,850.8 L178.6,849.3 L178.8,847.9 L179.0,846.4 L179.2,844.9 L179.4,843.4 L179.6,841.9 L179.8,840.4 L180.1,838.9 L180.3,837.5 L180.5,836.0 L180.7,834.5 L180.9,833.0 L181.1,831.5 L181.3,830.0 L181.5,828.5 L181.7,827.0 L181.9,825.6 L182.1,824.1 L182.3,822.6 L182.5,821.1 L182.7,819.6 L182.9,818.1 L183.1,816.6 L183.3,815.1 L183.5,813.7 L183.6,812.2 L183.8,810.7 L184.0,809.2 L184.2,807.7 L184.4,806.2 L184.6,804.7 L184.8,803.2 L185.0,801.8 L185.2,800.3 L185.4,798.8 L185.5,797.3 L185.7,795.8 L185.9,794.3 L186.1,792.8 L186.3,791.3 L186.5,789.8 L186.7,788.4 L186.9,786.9 L187.0,785.4 L187.2,783.9 L187.4,782.4 L187.6,780.9 L187.8,779.4 L188.0,777.9 L188.2,776.5 L188.4,775.0 L188.6,773.5 L188.8,772.0 L189.0,770.5 L189.2,769.0 L189.4,767.5 L189.6,766.0 L189.8,764.6 L190.0,763.1 L190.3,761.6 L190.5,760.1 L190.7,758.6 L191.0,757.2 L191.2,755.7 L191.5,754.2 L191.7,752.7 L192.0,751.2 L192.3,749.8 L192.5,748.3 L192.8,746.8 L193.1,745.4 L193.4,743.9 L193.7,742.4 L194.1,740.9 L194.4,739.5 L194.7,738.0 L195.0,736.6 L195.4,735.1" fill="none" stroke="#A5A5A5" stroke-opacity="0.85" stroke-width="7" stroke-dasharray="1.6 3.4"/>
<path d="M1981.7,139.6 L1982.2,138.1 L1982.6,136.7 L1983.1,135.3 L1983.5,133.9 L1984.0,132.4 L1984.5,131.0 L1984.9,129.6 L1985.4,128.1 L1985.8,126.7 L1986.3,125.3 L1986.7,123.8 L1987.1,122.4 L1987.6,121.0 L1988.0,119.5 L1988.5,118.1 L1988.9,116.7 L1989.3,115.2 L1989.8,113.8 L1990.2,112.4 L1990.6,110.9 L1991.0,109.5 L1991.4,108.0 L1991.8,106.6 L1992.3,105.2 L1992.7,103.7 L1993.1,102.3 L1993.5,100.8 L1993.8,99.4 L1994.2,97.9 L1994.6,96.5 L1995.0,95.0 L1995.4,93.6 L1995.8,92.1 L1996.2,90.7 L1996.5,89.2 L1996.9,87.8 L1997.3,86.3 L1997.7,84.9 L1998.0,83.4 L1998.4,81.9 L1998.7,80.5 L1999.1,79.0 L1999.5,77.6 L1999.8,76.1 L2000.2,74.7 L2000.5,73.2 L2000.9,71.7 L2001.2,70.3 L2001.6,68.8 L2001.9,67.4 L2002.3,65.9 L2002.6,64.4 L2002.9,63.0 L2003.3,61.5 L2003.6,60.1 L2004.0,58.6 L2004.3,57.1 L2004.6,55.7 L2005.0,54.2 L2005.3,52.7 L2005.6,51.3 L2005.9,49.8 L2006.3,48.4" fill="none" stroke="#A5A5A5" stroke-opacity="0.60" stroke-width="7" stroke-dasharray="1.6 3.4"/>
<path d="M201.7,887.0 L201.7,885.5 L201.7,884.1 L201.6,882.6 L201.6,881.1 L201.7,879.6 L201.7,878.1 L201.8,876.6 L201.9,875.1 L202.0,873.6 L202.1,872.1 L202.2,870.6 L202.4,869.1 L202.5,867.6 L202.6,866.1 L202.8,864.6 L203.0,863.1 L203.1,861.6 L203.3,860.2 L203.4,858.7 L203.6,857.2 L203.8,855.7 L204.0,854.2 L204.1,852.7 L204.3,851.2 L204.5,849.7 L204.7,848.3 L204.9,846.8 L205.2,845.3 L205.4,843.8 L205.7,842.4 L206.0,840.9 L206.4,839.4" fill="none" stroke="#FFC000" stroke-opacity="0.90" stroke-width="7" stroke-dasharray="1.6 3.4"/>
<path d="M1967.2,299.1 L1967.7,297.7 L1968.1,296.2 L1968.6,294.8 L1969.0,293.4 L1969.5,292.0 L1970.0,290.5 L1970.4,289.1 L1970.9,287.7 L1971.4,286.3 L1971.8,284.8 L1972.3,283.4 L1972.8,282.0 L1973.3,280.6 L1973.8,279.2 L1974.2,277.7 L1974.7,276.3 L1975.2,274.9 L1975.6,273.5 L1976.1,272.0 L1976.5,270.6 L1977.0,269.2 L1977.4,267.8 L1977.9,266.3 L1978.3,264.9 L1978.7,263.4 L1979.1,262.0 L1979.5,260.6 L1979.9,259.1 L1980.3,257.7 L1980.7,256.2 L1981.1,254.8 L1981.5,253.3 L1981.9,251.9 L1982.3,250.4 L1982.6,249.0 L1983.0,247.5 L1983.4,246.1 L1983.8,244.6 L1984.1,243.2 L1984.5,241.7 L1984.9,240.3 L1985.2,238.8 L1985.6,237.4 L1986.0,235.9 L1986.3,234.4 L1986.7,233.0 L1987.1,231.5 L1987.4,230.1 L1987.8,228.6 L1988.2,227.2 L1988.5,225.7 L1988.9,224.3 L1989.2,222.8 L1989.6,221.3 L1990.0,219.9 L1990.3,218.4 L1990.7,217.0 L1991.1,215.5 L1991.4,214.1 L1991.8,212.6 L1992.1,211.2 L1992.5,209.7 L1992.9,208.2 L1993.2,206.8 L1993.6,205.3 L1994.0,203.9 L1994.3,202.4 L1994.7,201.0 L1995.0,199.5 L1995.4,198.0 L1995.7,196.6 L1996.1,195.1 L1996.5,193.7 L1996.8,192.2 L1997.2,190.8 L1997.5,189.3 L1997.9,187.8 L1998.2,186.4 L1998.6,184.9 L1998.9,183.5 L1999.3,182.0 L1999.6,180.6 L2000.0,179.1 L2000.3,177.6 L2000.6,176.2 L2001.0,174.7 L2001.3,173.2 L2001.7,171.8 L2002.0,170.3 L2002.3,168.9 L2002.7,167.4 L2003.0,165.9 L2003.3,164.5 L2003.7,163.0 L2004.0,161.5 L2004.3,160.1 L2004.6,158.6 L2005.0,157.2 L2005.3,155.7 L2005.6,154.2 L2005.9,152.8 L2006.2,151.3 L2006.6,149.8 L2006.9,148.4 L2007.2,146.9 L2007.5,145.4 L2007.8,144.0 L2008.1,142.5 L2008.5,141.0 L2008.8,139.6 L2009.1,138.1 L2009.4,136.6 L2009.7,135.2 L2010.1,133.7 L2010.4,132.2 L2010.7,130.8 L2011.0,129.3 L2011.4,127.8 L2011.7,126.4 L2012.1,124.9 L2012.4,123.5 L2012.7,122.0 L2013.1,120.5 L2013.4,119.1 L2013.8,117.6 L2014.1,116.2 L2014.4,114.7 L2014.8,113.2 L2015.1,111.8 L2015.5,110.3 L2015.8,108.9 L2016.2,107.4 L2016.5,105.9 L2016.9,104.5 L2017.2,103.0 L2017.5,101.6 L2017.9,100.1 L2018.2,98.6 L2018.5,97.2 L2018.8,95.7 L2019.1,94.2 L2019.4,92.8 L2019.7,91.3 L2020.0,89.8 L2020.3,88.4 L2020.6,86.9 L2020.8,85.4 L2021.0,83.9 L2021.3,82.4 L2021.5,81.0 L2021.7,79.5 L2021.9,78.0 L2022.1,76.5 L2022.3,75.0 L2022.5,73.5 L2022.7,72.0 L2022.9,70.5 L2023.0,69.1" fill="none" stroke="#FFC000" stroke-opacity="0.80" stroke-width="7" stroke-dasharray="1.6 3.4"/>
<path d="M176.0,1080.7 L176.1,1079.2 L176.2,1077.7 L176.3,1076.2 L176.4,1074.7 L176.5,1073.2 L176.6,1071.7 L176.7,1070.2 L176.8,1068.7 L176.9,1067.2 L177.0,1065.7 L177.2,1064.2 L177.3,1062.7 L177.4,1061.2 L177.6,1059.8 L177.7,1058.3 L177.9,1056.8 L178.0,1055.3 L178.2,1053.8 L178.4,1052.3 L178.6,1050.8 L178.7,1049.3 L178.9,1047.8 L179.1,1046.3 L179.3,1044.8 L179.5,1043.4 L179.7,1041.9 L179.9,1040.4 L180.0,1038.9 L180.2,1037.4 L180.4,1035.9 L180.6,1034.4 L180.8,1032.9 L181.0,1031.4 L181.2,1030.0 L181.4,1028.5 L181.5,1027.0 L181.7,1025.5 L181.9,1024.0 L182.1,1022.5 L182.3,1021.0 L182.4,1019.5 L182.6,1018.0 L182.8,1016.6 L183.0,1015.1 L183.1,1013.6 L183.3,1012.1 L183.5,1010.6 L183.6,1009.1 L183.8,1007.6 L184.0,1006.1 L184.1,1004.6 L184.3,1003.1 L184.5,1001.6 L184.6,1000.1 L184.8,998.7 L185.0,997.2 L185.1,995.7 L185.3,994.2 L185.5,992.7 L185.7,991.2 L185.9,989.7 L186.0,988.2 L186.2,986.7 L186.4,985.3 L186.6,983.8 L186.8,982.3 L187.0,980.8 L187.2,979.3 L187.5,977.8 L187.7,976.3 L187.9,974.9 L188.1,973.4 L188.4,971.9 L188.6,970.4 L188.8,968.9 L189.1,967.5 L189.3,966.0 L189.6,964.5 L189.8,963.0 L190.1,961.5 L190.4,960.1 L190.7,958.6 L190.9,957.1 L191.2,955.6 L191.5,954.2 L191.8,952.7 L192.1,951.2 L192.4,949.8 L192.7,948.3 L193.0,946.8 L193.3,945.4 L193.6,943.9 L193.9,942.4 L194.2,940.9" fill="none" stroke="#2E75D6" stroke-opacity="0.90" stroke-width="7" stroke-dasharray="1.6 3.4"/>
<path d="M176.0,1236.4 L176.1,1234.9 L176.2,1233.4 L176.3,1231.9 L176.3,1230.4 L176.4,1228.9 L176.5,1227.4 L176.7,1225.9 L176.9,1224.4 L177.1,1223.0" fill="none" stroke="#2F9FE0" stroke-opacity="0.90" stroke-width="7" stroke-dasharray="1.6 3.4"/>
<circle cx="2026.1" cy="153.9" r="5.2" fill="#ED7D31"/>
<circle cx="2007.6" cy="42.5" r="5.2" fill="#A5A5A5"/>
<circle cx="2023.8" cy="63.1" r="5.2" fill="#FFC000"/>
<circle cx="2025.7" cy="623.4" r="5.2" fill="#2E75D6"/>
<circle cx="2024.5" cy="930.1" r="5.2" fill="#2F9FE0"/>
<text transform="translate(1123.63,105.60) scale(0.9771,1)" font-size="66.38" fill="#000">285</text>
<text transform="translate(1252.03,105.60) scale(0.8608,1)" font-size="66.38" fill="#000">°C</text>
<text transform="translate(1691.10,277.60) scale(1.0124,1)" font-size="66.09" fill="#000">440</text>
<text transform="translate(1820.79,277.60) scale(0.8761,1)" font-size="66.09" fill="#000">°C</text>
<text transform="translate(1605.71,679.20) scale(1.0052,1)" font-size="65.38" fill="#000">433</text>
<text transform="translate(1735.19,679.20) scale(0.8857,1)" font-size="65.38" fill="#000">°C</text>
<text transform="translate(1726.22,1060.40) scale(0.9687,1)" font-size="67.78" fill="#000">455</text>
<text transform="translate(1856.52,1060.40) scale(0.8596,1)" font-size="66.81" fill="#000">°C</text>
<text transform="translate(458.37,928.00) scale(0.9953,1)" font-size="66.81" fill="#000">97-154</text>
<text transform="translate(686.56,928.00) scale(0.8439,1)" font-size="66.81" fill="#000">°C</text>
<text transform="translate(85.14,1377.00) scale(0.9897,1)" font-size="79.57" fill="#000">20</text>
<text transform="translate(321.12,1377.00) scale(0.9982,1)" font-size="79.57" fill="#000">80</text>
<text transform="translate(537.79,1377.00) scale(0.9966,1)" font-size="79.57" fill="#000">140</text>
<text transform="translate(774.49,1377.00) scale(0.9920,1)" font-size="79.57" fill="#000">200</text>
<text transform="translate(1010.74,1377.00) scale(0.9912,1)" font-size="79.57" fill="#000">260</text>
<text transform="translate(1248.58,1377.00) scale(0.9874,1)" font-size="79.57" fill="#000">320</text>
<text transform="translate(1485.47,1377.00) scale(0.9937,1)" font-size="79.57" fill="#000">380</text>
<text transform="translate(1723.17,1377.00) scale(0.9922,1)" font-size="79.57" fill="#000">440</text>
<text transform="translate(1960.93,1377.00) scale(0.9928,1)" font-size="79.57" fill="#000">500</text>
<text transform="translate(757.30,1490.30) scale(0.9869,1)" font-size="91.64" fill="#000">Temperature</text>
<text transform="translate(1320.40,1490.30) scale(0.8950,1)" font-size="91.64" fill="#000">(°C)</text>
<g transform="translate(109.7,790.9) rotate(-90)"><text transform="translate(-5.12,0.00) scale(0.8323,1)" font-size="91.05" fill="#000">DSC</text><text transform="translate(176.67,0.00) scale(1.0172,1)" font-size="91.05" fill="#000">(mW)</text></g>
<g transform="translate(230.80,316.20) rotate(-2.55)"><text transform="translate(-3.42,0.00) scale(0.8742,1)" font-size="57.89" fill="#00B050">Fe</text><text transform="translate(57.78,13.60) scale(1.0801,1)" font-size="35.84" fill="#00B050">10</text><text transform="translate(112.45,0.00) scale(1.0114,1)" font-size="57.89" fill="#00B050">Ni</text><text transform="translate(170.62,13.60) scale(1.0999,1)" font-size="35.84" fill="#00B050">90</text></g>
<g transform="translate(242.30,565.60) rotate(-4.50)"><text transform="translate(-3.39,0.00) scale(0.8743,1)" font-size="57.45" fill="#DC0000">Fe</text><text transform="translate(59.08,13.60) scale(1.0515,1)" font-size="35.84" fill="#DC0000">20</text><text transform="translate(111.35,0.00) scale(1.0433,1)" font-size="57.45" fill="#DC0000">Ni</text><text transform="translate(172.06,13.60) scale(1.0677,1)" font-size="35.84" fill="#DC0000">80</text></g>
<g transform="translate(260.80,756.70) rotate(0.00)"><text transform="translate(-3.38,0.00) scale(0.8733,1)" font-size="57.31" fill="#0070C0">Fe</text><text transform="translate(57.37,13.60) scale(1.0336,1)" font-size="35.84" fill="#0070C0">30</text><text transform="translate(112.45,0.00) scale(1.0217,1)" font-size="57.31" fill="#0070C0">Ni</text><text transform="translate(170.41,13.60) scale(1.0456,1)" font-size="35.84" fill="#0070C0">70</text></g>
<g transform="translate(261.90,1000.00) rotate(0.00)"><text transform="translate(-3.42,0.00) scale(0.9014,1)" font-size="56.15" fill="#215A22">Fe</text><text transform="translate(57.03,13.60) scale(1.0580,1)" font-size="35.84" fill="#215A22">40</text><text transform="translate(113.05,0.00) scale(1.0428,1)" font-size="56.15" fill="#215A22">Ni</text><text transform="translate(170.08,13.60) scale(1.0540,1)" font-size="35.84" fill="#215A22">60</text></g>
<g transform="translate(306.40,1216.10) rotate(0.00)"><text transform="translate(-3.42,0.00) scale(0.8968,1)" font-size="56.44" fill="#000">Fe</text><text transform="translate(56.87,13.60) scale(1.0597,1)" font-size="35.84" fill="#000">50</text><text transform="translate(112.82,0.00) scale(1.0190,1)" font-size="56.44" fill="#000">Ni</text><text transform="translate(170.78,13.60) scale(1.0489,1)" font-size="35.84" fill="#000">50</text></g>
</svg></body></html>
